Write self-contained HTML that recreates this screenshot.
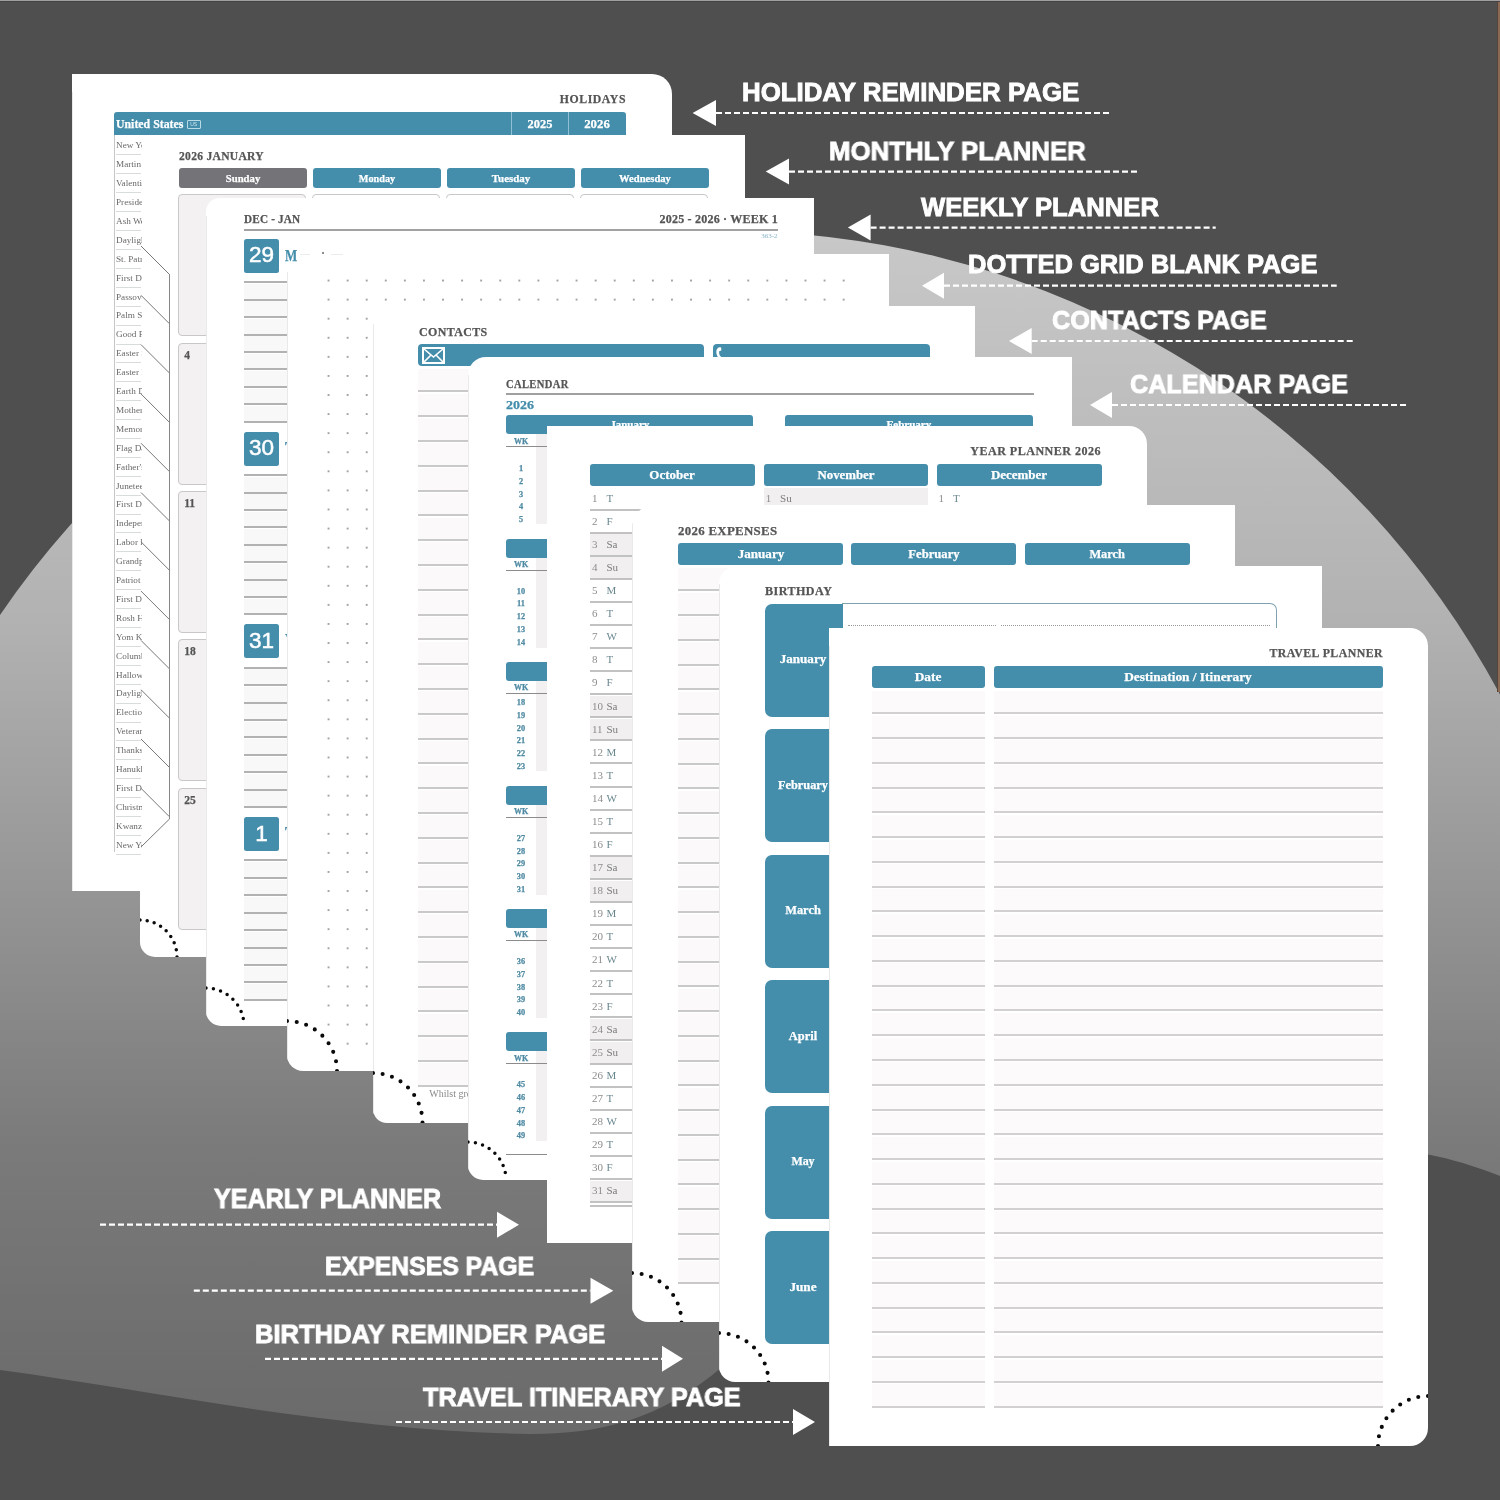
<!DOCTYPE html>
<html><head><meta charset="utf-8"><style>
html,body{margin:0;padding:0}
body{width:1500px;height:1500px;overflow:hidden;background:#4f4f4f;position:relative;font-family:'Liberation Serif',serif}
div{position:absolute;box-sizing:border-box}
.pg{overflow:hidden}
.lab{will-change:transform}
.pg{will-change:transform}
</style></head><body>
<svg style="position:absolute;left:0;top:0;z-index:0" width="1500" height="1500">
<defs><linearGradient id="g" x1="0" y1="230" x2="0" y2="1440" gradientUnits="userSpaceOnUse">
<stop offset="0" stop-color="#c8c8c8"/><stop offset="0.322" stop-color="#b2b2b2"/><stop offset="0.76" stop-color="#7a7a7a"/><stop offset="0.934" stop-color="#6e6e6e"/><stop offset="1" stop-color="#6a6a6a"/></linearGradient></defs>
<path d="M 0 615 A 878 878 0 0 1 1500 694.5 L 1500 1176 C 1460 1160 1420 1150 1370 1148 C 1150 1140 850 1260 722 1367 C 660 1420 600 1434 530 1434 C 330 1430 150 1390 0 1370 Z" fill="url(#g)"/>
<rect x="0" y="0" width="1500" height="1" fill="#a0a0a0"/>
<rect x="0" y="1" width="1500" height="1" fill="#444"/>
<rect x="1497" y="2" width="1" height="690" fill="#564538"/>
<rect x="1498" y="2" width="2" height="690" fill="#8a6a55"/>
</svg><div class="pg" id="hol" style="left:72px;top:74px;width:600px;height:817px;border-radius:0px 20px 0px 0px;z-index:1;background:#fff"><div style="left:0;top:18px;width:1px;bottom:0;height:auto;background:#e9e9e9"></div><div style="left:-446.4px;top:19.3px;width:1000px;font:bold 12.8px/1 'Liberation Serif', serif;color:#555;text-align:right;white-space:nowrap;letter-spacing:0.6px;transform:scaleX(0.92);transform-origin:right;-webkit-text-stroke:0.25px #555;">HOLIDAYS</div><div style="left:42px;top:38px;width:512px;height:23px;background:#448dab;border-radius:3px 3px 0 0;"></div><div style="left:439px;top:38px;width:1px;height:23px;background:#8fc0d3;"></div><div style="left:496px;top:38px;width:1px;height:23px;background:#8fc0d3;"></div><div style="left:44px;top:43.26px;width:1000px;font:bold 13px/1 'Liberation Serif', serif;color:#fff;text-align:left;white-space:nowrap;transform:scaleX(0.91);transform-origin:left;-webkit-text-stroke:0.25px #fff;">United States</div><div style="left:114.5px;top:46.3px;width:14.5px;height:8.7px;border:1px solid #b9dbe8;border-radius:1px;box-sizing:border-box;"></div><div style="left:-378.3px;top:47.6px;width:1000px;font:normal 5px/1 'Liberation Sans', sans-serif;color:#cfe6ef;text-align:center;white-space:nowrap;">US</div><div style="left:-32px;top:43.79px;width:1000px;font:bold 12.3px/1 'Liberation Serif', serif;color:#fff;text-align:center;white-space:nowrap;transform:scaleX(1.01);transform-origin:center;-webkit-text-stroke:0.25px #fff;">2025</div><div style="left:25.4px;top:43.79px;width:1000px;font:bold 12.3px/1 'Liberation Serif', serif;color:#fff;text-align:center;white-space:nowrap;transform:scaleX(1.04);transform-origin:center;-webkit-text-stroke:0.25px #fff;">2026</div></div><div class="pg" id="mon" style="left:140px;top:135px;width:605px;height:822px;border-radius:0px 0px 0px 15px;z-index:2;background:#fff"><div style="left:38.6px;top:15.13px;width:1000px;font:bold 12.6px/1 'Liberation Serif', serif;color:#555;text-align:left;white-space:nowrap;letter-spacing:0.3px;transform:scaleX(0.92);transform-origin:left;-webkit-text-stroke:0.25px #555;">2026 JANUARY</div><div style="left:38.6px;top:33px;width:128px;height:19.5px;background:#737378;border-radius:3px;"></div><div style="left:-397.4px;top:37.9px;width:1000px;font:bold 10.8px/1 'Liberation Serif', serif;color:#fff;text-align:center;white-space:nowrap;transform:scaleX(0.99);transform-origin:center;-webkit-text-stroke:0.25px #fff;">Sunday</div><div style="left:172.8px;top:33px;width:128px;height:19.5px;background:#448dab;border-radius:3px;"></div><div style="left:-263.2px;top:37.9px;width:1000px;font:bold 10.8px/1 'Liberation Serif', serif;color:#fff;text-align:center;white-space:nowrap;transform:scaleX(0.95);transform-origin:center;-webkit-text-stroke:0.25px #fff;">Monday</div><div style="left:307px;top:33px;width:128px;height:19.5px;background:#448dab;border-radius:3px;"></div><div style="left:-129px;top:37.9px;width:1000px;font:bold 10.8px/1 'Liberation Serif', serif;color:#fff;text-align:center;white-space:nowrap;transform:scaleX(1.01);transform-origin:center;-webkit-text-stroke:0.25px #fff;">Tuesday</div><div style="left:441.2px;top:33px;width:128px;height:19.5px;background:#448dab;border-radius:3px;"></div><div style="left:5.2px;top:37.9px;width:1000px;font:bold 10.8px/1 'Liberation Serif', serif;color:#fff;text-align:center;white-space:nowrap;transform:scaleX(0.98);transform-origin:center;-webkit-text-stroke:0.25px #fff;">Wednesday</div><div style="left:37.6px;top:59.4px;width:128px;height:142px;background:#f3f1f2;border:1px solid #c9c7c8;border-radius:4px;box-sizing:border-box;"></div><div style="left:37.6px;top:207.7px;width:128px;height:142px;background:#f3f1f2;border:1px solid #c9c7c8;border-radius:4px;box-sizing:border-box;"></div><div style="left:37.6px;top:356px;width:128px;height:142px;background:#f3f1f2;border:1px solid #c9c7c8;border-radius:4px;box-sizing:border-box;"></div><div style="left:37.6px;top:504.3px;width:128px;height:142px;background:#f3f1f2;border:1px solid #c9c7c8;border-radius:4px;box-sizing:border-box;"></div><div style="left:37.6px;top:652.6px;width:128px;height:142px;background:#f3f1f2;border:1px solid #c9c7c8;border-radius:4px;box-sizing:border-box;"></div><div style="left:171.8px;top:59.4px;width:128px;height:142px;background:#fff;border:1px solid #c9c7c8;border-radius:4px;box-sizing:border-box;"></div><div style="left:171.8px;top:207.7px;width:128px;height:142px;background:#fff;border:1px solid #c9c7c8;border-radius:4px;box-sizing:border-box;"></div><div style="left:171.8px;top:356px;width:128px;height:142px;background:#fff;border:1px solid #c9c7c8;border-radius:4px;box-sizing:border-box;"></div><div style="left:171.8px;top:504.3px;width:128px;height:142px;background:#fff;border:1px solid #c9c7c8;border-radius:4px;box-sizing:border-box;"></div><div style="left:171.8px;top:652.6px;width:128px;height:142px;background:#fff;border:1px solid #c9c7c8;border-radius:4px;box-sizing:border-box;"></div><div style="left:306px;top:59.4px;width:128px;height:142px;background:#fff;border:1px solid #c9c7c8;border-radius:4px;box-sizing:border-box;"></div><div style="left:306px;top:207.7px;width:128px;height:142px;background:#fff;border:1px solid #c9c7c8;border-radius:4px;box-sizing:border-box;"></div><div style="left:306px;top:356px;width:128px;height:142px;background:#fff;border:1px solid #c9c7c8;border-radius:4px;box-sizing:border-box;"></div><div style="left:306px;top:504.3px;width:128px;height:142px;background:#fff;border:1px solid #c9c7c8;border-radius:4px;box-sizing:border-box;"></div><div style="left:306px;top:652.6px;width:128px;height:142px;background:#fff;border:1px solid #c9c7c8;border-radius:4px;box-sizing:border-box;"></div><div style="left:440.2px;top:59.4px;width:128px;height:142px;background:#fff;border:1px solid #c9c7c8;border-radius:4px;box-sizing:border-box;"></div><div style="left:440.2px;top:207.7px;width:128px;height:142px;background:#fff;border:1px solid #c9c7c8;border-radius:4px;box-sizing:border-box;"></div><div style="left:440.2px;top:356px;width:128px;height:142px;background:#fff;border:1px solid #c9c7c8;border-radius:4px;box-sizing:border-box;"></div><div style="left:440.2px;top:504.3px;width:128px;height:142px;background:#fff;border:1px solid #c9c7c8;border-radius:4px;box-sizing:border-box;"></div><div style="left:440.2px;top:652.6px;width:128px;height:142px;background:#fff;border:1px solid #c9c7c8;border-radius:4px;box-sizing:border-box;"></div><div style="left:44.2px;top:214.83px;width:1000px;font:bold 11.5px/1 'Liberation Serif', serif;color:#555;text-align:left;white-space:nowrap;-webkit-text-stroke:0.25px #555;">4</div><div style="left:44.2px;top:363.13px;width:1000px;font:bold 11.5px/1 'Liberation Serif', serif;color:#555;text-align:left;white-space:nowrap;-webkit-text-stroke:0.25px #555;">11</div><div style="left:44.2px;top:511.43px;width:1000px;font:bold 11.5px/1 'Liberation Serif', serif;color:#555;text-align:left;white-space:nowrap;-webkit-text-stroke:0.25px #555;">18</div><div style="left:44.2px;top:659.73px;width:1000px;font:bold 11.5px/1 'Liberation Serif', serif;color:#555;text-align:left;white-space:nowrap;-webkit-text-stroke:0.25px #555;">25</div><svg style="position:absolute;left:0px;top:781px;overflow:visible" width="41" height="41"><path d="M 0 4 A 37 37 0 0 1 37 41" fill="none" stroke="#0a0a0a" stroke-width="3.5" stroke-linecap="round" stroke-dasharray="0 7.25"/></svg></div><div style="left:0;top:0;width:0;height:0;z-index:3;position:absolute"><div style="left:114px;top:135px;width:1px;height:717px;background:#c3c7c8;"></div><div style="left:116px;top:138.3px;width:26px;height:14px;overflow:hidden;font:9.2px/14px 'Liberation Serif', serif;color:#6a6a6a;white-space:nowrap">New Year</div><div style="left:116px;top:154px;width:25px;height:1px;background:#d9dcdc;"></div><div style="left:116px;top:157.2px;width:26px;height:14px;overflow:hidden;font:9.2px/14px 'Liberation Serif', serif;color:#6a6a6a;white-space:nowrap">Martin L</div><div style="left:116px;top:173px;width:25px;height:1px;background:#d9dcdc;"></div><div style="left:116px;top:176.1px;width:26px;height:14px;overflow:hidden;font:9.2px/14px 'Liberation Serif', serif;color:#6a6a6a;white-space:nowrap">Valentine</div><div style="left:116px;top:192px;width:25px;height:1px;background:#d9dcdc;"></div><div style="left:116px;top:195px;width:26px;height:14px;overflow:hidden;font:9.2px/14px 'Liberation Serif', serif;color:#6a6a6a;white-space:nowrap">President</div><div style="left:116px;top:211px;width:25px;height:1px;background:#d9dcdc;"></div><div style="left:116px;top:213.9px;width:26px;height:14px;overflow:hidden;font:9.2px/14px 'Liberation Serif', serif;color:#6a6a6a;white-space:nowrap">Ash Wed</div><div style="left:116px;top:230px;width:25px;height:1px;background:#d9dcdc;"></div><div style="left:116px;top:232.8px;width:26px;height:14px;overflow:hidden;font:9.2px/14px 'Liberation Serif', serif;color:#6a6a6a;white-space:nowrap">Daylight</div><div style="left:116px;top:249px;width:25px;height:1px;background:#d9dcdc;"></div><div style="left:116px;top:251.7px;width:26px;height:14px;overflow:hidden;font:9.2px/14px 'Liberation Serif', serif;color:#6a6a6a;white-space:nowrap">St. Patr</div><div style="left:116px;top:268px;width:25px;height:1px;background:#d9dcdc;"></div><div style="left:116px;top:270.6px;width:26px;height:14px;overflow:hidden;font:9.2px/14px 'Liberation Serif', serif;color:#6a6a6a;white-space:nowrap">First Da</div><div style="left:116px;top:287px;width:25px;height:1px;background:#d9dcdc;"></div><div style="left:116px;top:289.5px;width:26px;height:14px;overflow:hidden;font:9.2px/14px 'Liberation Serif', serif;color:#6a6a6a;white-space:nowrap">Passover</div><div style="left:116px;top:306px;width:25px;height:1px;background:#d9dcdc;"></div><div style="left:116px;top:308.4px;width:26px;height:14px;overflow:hidden;font:9.2px/14px 'Liberation Serif', serif;color:#6a6a6a;white-space:nowrap">Palm Sun</div><div style="left:116px;top:325px;width:25px;height:1px;background:#d9dcdc;"></div><div style="left:116px;top:327.3px;width:26px;height:14px;overflow:hidden;font:9.2px/14px 'Liberation Serif', serif;color:#6a6a6a;white-space:nowrap">Good Fri</div><div style="left:116px;top:344px;width:25px;height:1px;background:#d9dcdc;"></div><div style="left:116px;top:346.2px;width:26px;height:14px;overflow:hidden;font:9.2px/14px 'Liberation Serif', serif;color:#6a6a6a;white-space:nowrap">Easter S</div><div style="left:116px;top:362px;width:25px;height:1px;background:#d9dcdc;"></div><div style="left:116px;top:365.1px;width:26px;height:14px;overflow:hidden;font:9.2px/14px 'Liberation Serif', serif;color:#6a6a6a;white-space:nowrap">Easter M</div><div style="left:116px;top:381px;width:25px;height:1px;background:#d9dcdc;"></div><div style="left:116px;top:384px;width:26px;height:14px;overflow:hidden;font:9.2px/14px 'Liberation Serif', serif;color:#6a6a6a;white-space:nowrap">Earth Da</div><div style="left:116px;top:400px;width:25px;height:1px;background:#d9dcdc;"></div><div style="left:116px;top:402.9px;width:26px;height:14px;overflow:hidden;font:9.2px/14px 'Liberation Serif', serif;color:#6a6a6a;white-space:nowrap">Mother</div><div style="left:116px;top:419px;width:25px;height:1px;background:#d9dcdc;"></div><div style="left:116px;top:421.8px;width:26px;height:14px;overflow:hidden;font:9.2px/14px 'Liberation Serif', serif;color:#6a6a6a;white-space:nowrap">Memorial</div><div style="left:116px;top:438px;width:25px;height:1px;background:#d9dcdc;"></div><div style="left:116px;top:440.7px;width:26px;height:14px;overflow:hidden;font:9.2px/14px 'Liberation Serif', serif;color:#6a6a6a;white-space:nowrap">Flag Day</div><div style="left:116px;top:457px;width:25px;height:1px;background:#d9dcdc;"></div><div style="left:116px;top:459.6px;width:26px;height:14px;overflow:hidden;font:9.2px/14px 'Liberation Serif', serif;color:#6a6a6a;white-space:nowrap">Father's</div><div style="left:116px;top:476px;width:25px;height:1px;background:#d9dcdc;"></div><div style="left:116px;top:478.5px;width:26px;height:14px;overflow:hidden;font:9.2px/14px 'Liberation Serif', serif;color:#6a6a6a;white-space:nowrap">Juneteen</div><div style="left:116px;top:495px;width:25px;height:1px;background:#d9dcdc;"></div><div style="left:116px;top:497.4px;width:26px;height:14px;overflow:hidden;font:9.2px/14px 'Liberation Serif', serif;color:#6a6a6a;white-space:nowrap">First Da</div><div style="left:116px;top:514px;width:25px;height:1px;background:#d9dcdc;"></div><div style="left:116px;top:516.3px;width:26px;height:14px;overflow:hidden;font:9.2px/14px 'Liberation Serif', serif;color:#6a6a6a;white-space:nowrap">Independ</div><div style="left:116px;top:532px;width:25px;height:1px;background:#d9dcdc;"></div><div style="left:116px;top:535.2px;width:26px;height:14px;overflow:hidden;font:9.2px/14px 'Liberation Serif', serif;color:#6a6a6a;white-space:nowrap">Labor Da</div><div style="left:116px;top:551px;width:25px;height:1px;background:#d9dcdc;"></div><div style="left:116px;top:554.1px;width:26px;height:14px;overflow:hidden;font:9.2px/14px 'Liberation Serif', serif;color:#6a6a6a;white-space:nowrap">Grandpar</div><div style="left:116px;top:570px;width:25px;height:1px;background:#d9dcdc;"></div><div style="left:116px;top:573px;width:26px;height:14px;overflow:hidden;font:9.2px/14px 'Liberation Serif', serif;color:#6a6a6a;white-space:nowrap">Patriot</div><div style="left:116px;top:589px;width:25px;height:1px;background:#d9dcdc;"></div><div style="left:116px;top:591.9px;width:26px;height:14px;overflow:hidden;font:9.2px/14px 'Liberation Serif', serif;color:#6a6a6a;white-space:nowrap">First Da</div><div style="left:116px;top:608px;width:25px;height:1px;background:#d9dcdc;"></div><div style="left:116px;top:610.8px;width:26px;height:14px;overflow:hidden;font:9.2px/14px 'Liberation Serif', serif;color:#6a6a6a;white-space:nowrap">Rosh Has</div><div style="left:116px;top:627px;width:25px;height:1px;background:#d9dcdc;"></div><div style="left:116px;top:629.7px;width:26px;height:14px;overflow:hidden;font:9.2px/14px 'Liberation Serif', serif;color:#6a6a6a;white-space:nowrap">Yom Kip</div><div style="left:116px;top:646px;width:25px;height:1px;background:#d9dcdc;"></div><div style="left:116px;top:648.6px;width:26px;height:14px;overflow:hidden;font:9.2px/14px 'Liberation Serif', serif;color:#6a6a6a;white-space:nowrap">Columbus</div><div style="left:116px;top:665px;width:25px;height:1px;background:#d9dcdc;"></div><div style="left:116px;top:667.5px;width:26px;height:14px;overflow:hidden;font:9.2px/14px 'Liberation Serif', serif;color:#6a6a6a;white-space:nowrap">Hallowee</div><div style="left:116px;top:684px;width:25px;height:1px;background:#d9dcdc;"></div><div style="left:116px;top:686.4px;width:26px;height:14px;overflow:hidden;font:9.2px/14px 'Liberation Serif', serif;color:#6a6a6a;white-space:nowrap">Daylight</div><div style="left:116px;top:703px;width:25px;height:1px;background:#d9dcdc;"></div><div style="left:116px;top:705.3px;width:26px;height:14px;overflow:hidden;font:9.2px/14px 'Liberation Serif', serif;color:#6a6a6a;white-space:nowrap">Election</div><div style="left:116px;top:722px;width:25px;height:1px;background:#d9dcdc;"></div><div style="left:116px;top:724.2px;width:26px;height:14px;overflow:hidden;font:9.2px/14px 'Liberation Serif', serif;color:#6a6a6a;white-space:nowrap">Veterans</div><div style="left:116px;top:740px;width:25px;height:1px;background:#d9dcdc;"></div><div style="left:116px;top:743.1px;width:26px;height:14px;overflow:hidden;font:9.2px/14px 'Liberation Serif', serif;color:#6a6a6a;white-space:nowrap">Thanksg</div><div style="left:116px;top:759px;width:25px;height:1px;background:#d9dcdc;"></div><div style="left:116px;top:762px;width:26px;height:14px;overflow:hidden;font:9.2px/14px 'Liberation Serif', serif;color:#6a6a6a;white-space:nowrap">Hanukkah</div><div style="left:116px;top:778px;width:25px;height:1px;background:#d9dcdc;"></div><div style="left:116px;top:780.9px;width:26px;height:14px;overflow:hidden;font:9.2px/14px 'Liberation Serif', serif;color:#6a6a6a;white-space:nowrap">First Da</div><div style="left:116px;top:797px;width:25px;height:1px;background:#d9dcdc;"></div><div style="left:116px;top:799.8px;width:26px;height:14px;overflow:hidden;font:9.2px/14px 'Liberation Serif', serif;color:#6a6a6a;white-space:nowrap">Christmas</div><div style="left:116px;top:816px;width:25px;height:1px;background:#d9dcdc;"></div><div style="left:116px;top:818.7px;width:26px;height:14px;overflow:hidden;font:9.2px/14px 'Liberation Serif', serif;color:#6a6a6a;white-space:nowrap">Kwanzaa</div><div style="left:116px;top:835px;width:25px;height:1px;background:#d9dcdc;"></div><div style="left:116px;top:837.6px;width:26px;height:14px;overflow:hidden;font:9.2px/14px 'Liberation Serif', serif;color:#6a6a6a;white-space:nowrap">New Year</div><div style="left:116px;top:854px;width:25px;height:1px;background:#d9dcdc;"></div><svg style="left:0;top:0;position:absolute;overflow:visible" width="1500" height="1000"><line x1="141" y1="246" x2="169.5" y2="274.5" stroke="#777" stroke-width="1"/><line x1="141" y1="295.3" x2="169.5" y2="323.8" stroke="#777" stroke-width="1"/><line x1="141" y1="344.6" x2="169.5" y2="373.1" stroke="#777" stroke-width="1"/><line x1="141" y1="393.9" x2="169.5" y2="422.4" stroke="#777" stroke-width="1"/><line x1="141" y1="443.2" x2="169.5" y2="471.7" stroke="#777" stroke-width="1"/><line x1="141" y1="492.5" x2="169.5" y2="521" stroke="#777" stroke-width="1"/><line x1="141" y1="541.8" x2="169.5" y2="570.3" stroke="#777" stroke-width="1"/><line x1="141" y1="591.1" x2="169.5" y2="619.6" stroke="#777" stroke-width="1"/><line x1="141" y1="640.4" x2="169.5" y2="668.9" stroke="#777" stroke-width="1"/><line x1="141" y1="689.7" x2="169.5" y2="718.2" stroke="#777" stroke-width="1"/><line x1="141" y1="739" x2="169.5" y2="767.5" stroke="#777" stroke-width="1"/><line x1="141" y1="788.3" x2="169.5" y2="816.8" stroke="#777" stroke-width="1"/><line x1="169.5" y1="274" x2="169.5" y2="819" stroke="#888" stroke-width="1"/><line x1="141" y1="847" x2="169.5" y2="819" stroke="#777" stroke-width="1"/></svg></div><div class="pg" id="wk" style="left:206px;top:198px;width:608px;height:828px;border-radius:14px 0px 0px 15px;z-index:4;background:#fff"><div style="left:0;top:18px;width:1px;bottom:0;height:auto;background:#e9e9e9"></div><div style="left:38.4px;top:14.79px;width:1000px;font:bold 12.3px/1 'Liberation Serif', serif;color:#555;text-align:left;white-space:nowrap;letter-spacing:0.2px;transform:scaleX(0.91);transform-origin:left;-webkit-text-stroke:0.25px #555;">DEC - JAN</div><div style="left:-428.4px;top:14.99px;width:1000px;font:bold 12.3px/1 'Liberation Serif', serif;color:#555;text-align:right;white-space:nowrap;letter-spacing:0.2px;transform:scaleX(0.98);transform-origin:right;-webkit-text-stroke:0.25px #555;">2025 - 2026 · WEEK 1</div><div style="left:38px;top:31px;width:534px;height:2px;background:#a2a2a2;"></div><div style="left:-428.4px;top:35.24px;width:1000px;font:normal 7px/1 'Liberation Serif', serif;color:#8ab4c6;text-align:right;white-space:nowrap;">363-2</div><div style="left:38.1px;top:41px;width:35px;height:34px;background:#448dab;border-radius:2.5px;"></div><div style="left:-444.4px;top:46.4px;width:1000px;font:normal 22.5px/1 'Liberation Sans', sans-serif;color:#fff;text-align:center;white-space:nowrap;-webkit-text-stroke:0.5px #fff;">29</div><div style="left:38px;top:86px;width:569px;height:15.82px;background:#f8f8f8;"></div><div style="left:38px;top:83px;width:569px;height:2px;background:#b2b2b2;"></div><div style="left:38px;top:103.42px;width:569px;height:15.82px;background:#f8f8f8;"></div><div style="left:38px;top:101px;width:569px;height:2px;background:#b2b2b2;"></div><div style="left:38px;top:120.84px;width:569px;height:15.82px;background:#f8f8f8;"></div><div style="left:38px;top:118px;width:569px;height:2px;background:#b2b2b2;"></div><div style="left:38px;top:138.26px;width:569px;height:15.82px;background:#f8f8f8;"></div><div style="left:38px;top:136px;width:569px;height:2px;background:#b2b2b2;"></div><div style="left:38px;top:155.68px;width:569px;height:15.82px;background:#f8f8f8;"></div><div style="left:38px;top:153px;width:569px;height:2px;background:#b2b2b2;"></div><div style="left:38px;top:173.1px;width:569px;height:15.82px;background:#f8f8f8;"></div><div style="left:38px;top:170px;width:569px;height:2px;background:#b2b2b2;"></div><div style="left:38px;top:190.52px;width:569px;height:15.82px;background:#f8f8f8;"></div><div style="left:38px;top:188px;width:569px;height:2px;background:#b2b2b2;"></div><div style="left:38px;top:207.94px;width:569px;height:15.82px;background:#f8f8f8;"></div><div style="left:38px;top:205px;width:569px;height:2px;background:#b2b2b2;"></div><div style="left:38px;top:223px;width:569px;height:2px;background:#b2b2b2;"></div><div style="left:38.1px;top:233.7px;width:35px;height:34px;background:#448dab;border-radius:2.5px;"></div><div style="left:-444.4px;top:239.1px;width:1000px;font:normal 22.5px/1 'Liberation Sans', sans-serif;color:#fff;text-align:center;white-space:nowrap;-webkit-text-stroke:0.5px #fff;">30</div><div style="left:79px;top:241.73px;width:1000px;font:bold 16.5px/1 'Liberation Serif', serif;color:#448dab;text-align:left;white-space:nowrap;-webkit-text-stroke:0.25px #448dab;">Tuesday</div><div style="left:38px;top:278.7px;width:569px;height:15.82px;background:#f8f8f8;"></div><div style="left:38px;top:276px;width:569px;height:2px;background:#b2b2b2;"></div><div style="left:38px;top:296.12px;width:569px;height:15.82px;background:#f8f8f8;"></div><div style="left:38px;top:294px;width:569px;height:2px;background:#b2b2b2;"></div><div style="left:38px;top:313.54px;width:569px;height:15.82px;background:#f8f8f8;"></div><div style="left:38px;top:311px;width:569px;height:2px;background:#b2b2b2;"></div><div style="left:38px;top:330.96px;width:569px;height:15.82px;background:#f8f8f8;"></div><div style="left:38px;top:328px;width:569px;height:2px;background:#b2b2b2;"></div><div style="left:38px;top:348.38px;width:569px;height:15.82px;background:#f8f8f8;"></div><div style="left:38px;top:346px;width:569px;height:2px;background:#b2b2b2;"></div><div style="left:38px;top:365.8px;width:569px;height:15.82px;background:#f8f8f8;"></div><div style="left:38px;top:363px;width:569px;height:2px;background:#b2b2b2;"></div><div style="left:38px;top:383.22px;width:569px;height:15.82px;background:#f8f8f8;"></div><div style="left:38px;top:381px;width:569px;height:2px;background:#b2b2b2;"></div><div style="left:38px;top:400.64px;width:569px;height:15.82px;background:#f8f8f8;"></div><div style="left:38px;top:398px;width:569px;height:2px;background:#b2b2b2;"></div><div style="left:38px;top:415px;width:569px;height:2px;background:#b2b2b2;"></div><div style="left:38.1px;top:426.4px;width:35px;height:34px;background:#448dab;border-radius:2.5px;"></div><div style="left:-444.4px;top:431.8px;width:1000px;font:normal 22.5px/1 'Liberation Sans', sans-serif;color:#fff;text-align:center;white-space:nowrap;-webkit-text-stroke:0.5px #fff;">31</div><div style="left:79px;top:434.43px;width:1000px;font:bold 16.5px/1 'Liberation Serif', serif;color:#448dab;text-align:left;white-space:nowrap;-webkit-text-stroke:0.25px #448dab;">Wednesday</div><div style="left:38px;top:471.4px;width:569px;height:15.82px;background:#f8f8f8;"></div><div style="left:38px;top:469px;width:569px;height:2px;background:#b2b2b2;"></div><div style="left:38px;top:488.82px;width:569px;height:15.82px;background:#f8f8f8;"></div><div style="left:38px;top:486px;width:569px;height:2px;background:#b2b2b2;"></div><div style="left:38px;top:506.24px;width:569px;height:15.82px;background:#f8f8f8;"></div><div style="left:38px;top:504px;width:569px;height:2px;background:#b2b2b2;"></div><div style="left:38px;top:523.66px;width:569px;height:15.82px;background:#f8f8f8;"></div><div style="left:38px;top:521px;width:569px;height:2px;background:#b2b2b2;"></div><div style="left:38px;top:541.08px;width:569px;height:15.82px;background:#f8f8f8;"></div><div style="left:38px;top:538px;width:569px;height:2px;background:#b2b2b2;"></div><div style="left:38px;top:558.5px;width:569px;height:15.82px;background:#f8f8f8;"></div><div style="left:38px;top:556px;width:569px;height:2px;background:#b2b2b2;"></div><div style="left:38px;top:575.92px;width:569px;height:15.82px;background:#f8f8f8;"></div><div style="left:38px;top:573px;width:569px;height:2px;background:#b2b2b2;"></div><div style="left:38px;top:593.34px;width:569px;height:15.82px;background:#f8f8f8;"></div><div style="left:38px;top:591px;width:569px;height:2px;background:#b2b2b2;"></div><div style="left:38px;top:608px;width:569px;height:2px;background:#b2b2b2;"></div><div style="left:38.1px;top:619.1px;width:35px;height:34px;background:#448dab;border-radius:2.5px;"></div><div style="left:-444.4px;top:624.5px;width:1000px;font:normal 22.5px/1 'Liberation Sans', sans-serif;color:#fff;text-align:center;white-space:nowrap;-webkit-text-stroke:0.5px #fff;">1</div><div style="left:79px;top:627.13px;width:1000px;font:bold 16.5px/1 'Liberation Serif', serif;color:#448dab;text-align:left;white-space:nowrap;-webkit-text-stroke:0.25px #448dab;">Thursday</div><div style="left:38px;top:664.1px;width:569px;height:15.82px;background:#f8f8f8;"></div><div style="left:38px;top:661px;width:569px;height:2px;background:#b2b2b2;"></div><div style="left:38px;top:681.52px;width:569px;height:15.82px;background:#f8f8f8;"></div><div style="left:38px;top:679px;width:569px;height:2px;background:#b2b2b2;"></div><div style="left:38px;top:698.94px;width:569px;height:15.82px;background:#f8f8f8;"></div><div style="left:38px;top:696px;width:569px;height:2px;background:#b2b2b2;"></div><div style="left:38px;top:716.36px;width:569px;height:15.82px;background:#f8f8f8;"></div><div style="left:38px;top:714px;width:569px;height:2px;background:#b2b2b2;"></div><div style="left:38px;top:733.78px;width:569px;height:15.82px;background:#f8f8f8;"></div><div style="left:38px;top:731px;width:569px;height:2px;background:#b2b2b2;"></div><div style="left:38px;top:751.2px;width:569px;height:15.82px;background:#f8f8f8;"></div><div style="left:38px;top:749px;width:569px;height:2px;background:#b2b2b2;"></div><div style="left:38px;top:768.62px;width:569px;height:15.82px;background:#f8f8f8;"></div><div style="left:38px;top:766px;width:569px;height:2px;background:#b2b2b2;"></div><div style="left:38px;top:786.04px;width:569px;height:15.82px;background:#f8f8f8;"></div><div style="left:38px;top:783px;width:569px;height:2px;background:#b2b2b2;"></div><div style="left:38px;top:801px;width:569px;height:2px;background:#b2b2b2;"></div><svg style="position:absolute;left:0px;top:785.6px;overflow:visible" width="42" height="42"><path d="M 0 4 A 38 38 0 0 1 38 42" fill="none" stroke="#0a0a0a" stroke-width="3.5" stroke-linecap="round" stroke-dasharray="0 7.45"/></svg></div><div class="pg" id="dot" style="left:287px;top:254px;width:602px;height:817px;border-radius:14px 0px 0px 16px;z-index:5;background:#fff"><div style="left:0;top:18px;width:1px;bottom:0;height:auto;background:#e9e9e9"></div><div style="left:32.26px;top:17.26px;width:534.24px;height:782.28px;background:radial-gradient(circle at center, #a2a2a2 0, #a2a2a2 0.8px, rgba(255,255,255,0) 1.2px);background-size:19.08px 19.08px;"></div><svg style="position:absolute;left:0.2px;top:763.3px;overflow:visible" width="54" height="54"><path d="M 0 4 A 50 50 0 0 1 50 54" fill="none" stroke="#0a0a0a" stroke-width="4.1" stroke-linecap="round" stroke-dasharray="0 9.8"/></svg></div><div class="pg" id="con" style="left:373px;top:306px;width:602px;height:817px;border-radius:0px 0px 0px 14px;z-index:6;background:#fff"><div style="left:0;top:18px;width:1px;bottom:0;height:auto;background:#e9e9e9"></div><div style="left:45.8px;top:18.66px;width:1000px;font:bold 13px/1 'Liberation Serif', serif;color:#555;text-align:left;white-space:nowrap;letter-spacing:0.4px;transform:scaleX(0.92);transform-origin:left;-webkit-text-stroke:0.25px #555;">CONTACTS</div><div style="left:45.4px;top:38.4px;width:286px;height:21.6px;background:#448dab;border-radius:4px 4px 0 4px;"></div><div style="left:339.8px;top:38.4px;width:217.2px;height:21.6px;background:#448dab;border-radius:4px 4px 0 4px;"></div><svg style="position:absolute;left:49px;top:40.8px" width="23" height="17" viewBox="0 0 23 17"><rect x="1" y="1" width="21" height="15" fill="none" stroke="#fff" stroke-width="2"/><path d="M1.5 1.5 L11.5 10 L21.5 1.5 M1.5 15.5 L8.5 8.5 M21.5 15.5 L14.5 8.5" fill="none" stroke="#fff" stroke-width="1.6"/></svg><svg style="position:absolute;left:342px;top:40.5px" width="8" height="13" viewBox="0 0 8 13"><path d="M4.6 0.3 C1.6 0.8 0.4 4.5 2.2 8.8 C3.2 11.2 4.3 12.6 5.6 12.8 L7 10.6 L5.2 9 C4.3 7.6 3.9 5.8 4.2 4.2 L6.3 3.6 L6.2 0.4 Z" fill="#fff"/></svg><div style="left:45.4px;top:62.8px;width:286px;height:22.5px;background:#fcf9fa;"></div><div style="left:45.4px;top:84px;width:286px;height:2px;background:#c9c9c9;"></div><div style="left:339.8px;top:62.8px;width:217px;height:22.5px;background:#fcf9fa;"></div><div style="left:339.8px;top:84px;width:217.2px;height:2px;background:#c9c9c9;"></div><div style="left:45.4px;top:87.6px;width:286px;height:22.5px;background:#fcf9fa;"></div><div style="left:45.4px;top:109px;width:286px;height:2px;background:#c9c9c9;"></div><div style="left:339.8px;top:87.6px;width:217px;height:22.5px;background:#fcf9fa;"></div><div style="left:339.8px;top:109px;width:217.2px;height:2px;background:#c9c9c9;"></div><div style="left:45.4px;top:112.4px;width:286px;height:22.5px;background:#fcf9fa;"></div><div style="left:45.4px;top:134px;width:286px;height:2px;background:#c9c9c9;"></div><div style="left:339.8px;top:112.4px;width:217px;height:22.5px;background:#fcf9fa;"></div><div style="left:339.8px;top:134px;width:217.2px;height:2px;background:#c9c9c9;"></div><div style="left:45.4px;top:137.2px;width:286px;height:22.5px;background:#fcf9fa;"></div><div style="left:45.4px;top:159px;width:286px;height:2px;background:#c9c9c9;"></div><div style="left:339.8px;top:137.2px;width:217px;height:22.5px;background:#fcf9fa;"></div><div style="left:339.8px;top:159px;width:217.2px;height:2px;background:#c9c9c9;"></div><div style="left:45.4px;top:162px;width:286px;height:22.5px;background:#fcf9fa;"></div><div style="left:45.4px;top:184px;width:286px;height:2px;background:#c9c9c9;"></div><div style="left:339.8px;top:162px;width:217px;height:22.5px;background:#fcf9fa;"></div><div style="left:339.8px;top:184px;width:217.2px;height:2px;background:#c9c9c9;"></div><div style="left:45.4px;top:186.8px;width:286px;height:22.5px;background:#fcf9fa;"></div><div style="left:45.4px;top:208px;width:286px;height:2px;background:#c9c9c9;"></div><div style="left:339.8px;top:186.8px;width:217px;height:22.5px;background:#fcf9fa;"></div><div style="left:339.8px;top:208px;width:217.2px;height:2px;background:#c9c9c9;"></div><div style="left:45.4px;top:211.6px;width:286px;height:22.5px;background:#fcf9fa;"></div><div style="left:45.4px;top:233px;width:286px;height:2px;background:#c9c9c9;"></div><div style="left:339.8px;top:211.6px;width:217px;height:22.5px;background:#fcf9fa;"></div><div style="left:339.8px;top:233px;width:217.2px;height:2px;background:#c9c9c9;"></div><div style="left:45.4px;top:236.4px;width:286px;height:22.5px;background:#fcf9fa;"></div><div style="left:45.4px;top:258px;width:286px;height:2px;background:#c9c9c9;"></div><div style="left:339.8px;top:236.4px;width:217px;height:22.5px;background:#fcf9fa;"></div><div style="left:339.8px;top:258px;width:217.2px;height:2px;background:#c9c9c9;"></div><div style="left:45.4px;top:261.2px;width:286px;height:22.5px;background:#fcf9fa;"></div><div style="left:45.4px;top:283px;width:286px;height:2px;background:#c9c9c9;"></div><div style="left:339.8px;top:261.2px;width:217px;height:22.5px;background:#fcf9fa;"></div><div style="left:339.8px;top:283px;width:217.2px;height:2px;background:#c9c9c9;"></div><div style="left:45.4px;top:286px;width:286px;height:22.5px;background:#fcf9fa;"></div><div style="left:45.4px;top:308px;width:286px;height:2px;background:#c9c9c9;"></div><div style="left:339.8px;top:286px;width:217px;height:22.5px;background:#fcf9fa;"></div><div style="left:339.8px;top:308px;width:217.2px;height:2px;background:#c9c9c9;"></div><div style="left:45.4px;top:310.8px;width:286px;height:22.5px;background:#fcf9fa;"></div><div style="left:45.4px;top:332px;width:286px;height:2px;background:#c9c9c9;"></div><div style="left:339.8px;top:310.8px;width:217px;height:22.5px;background:#fcf9fa;"></div><div style="left:339.8px;top:332px;width:217.2px;height:2px;background:#c9c9c9;"></div><div style="left:45.4px;top:335.6px;width:286px;height:22.5px;background:#fcf9fa;"></div><div style="left:45.4px;top:357px;width:286px;height:2px;background:#c9c9c9;"></div><div style="left:339.8px;top:335.6px;width:217px;height:22.5px;background:#fcf9fa;"></div><div style="left:339.8px;top:357px;width:217.2px;height:2px;background:#c9c9c9;"></div><div style="left:45.4px;top:360.4px;width:286px;height:22.5px;background:#fcf9fa;"></div><div style="left:45.4px;top:382px;width:286px;height:2px;background:#c9c9c9;"></div><div style="left:339.8px;top:360.4px;width:217px;height:22.5px;background:#fcf9fa;"></div><div style="left:339.8px;top:382px;width:217.2px;height:2px;background:#c9c9c9;"></div><div style="left:45.4px;top:385.2px;width:286px;height:22.5px;background:#fcf9fa;"></div><div style="left:45.4px;top:407px;width:286px;height:2px;background:#c9c9c9;"></div><div style="left:339.8px;top:385.2px;width:217px;height:22.5px;background:#fcf9fa;"></div><div style="left:339.8px;top:407px;width:217.2px;height:2px;background:#c9c9c9;"></div><div style="left:45.4px;top:410px;width:286px;height:22.5px;background:#fcf9fa;"></div><div style="left:45.4px;top:432px;width:286px;height:2px;background:#c9c9c9;"></div><div style="left:339.8px;top:410px;width:217px;height:22.5px;background:#fcf9fa;"></div><div style="left:339.8px;top:432px;width:217.2px;height:2px;background:#c9c9c9;"></div><div style="left:45.4px;top:434.8px;width:286px;height:22.5px;background:#fcf9fa;"></div><div style="left:45.4px;top:456px;width:286px;height:2px;background:#c9c9c9;"></div><div style="left:339.8px;top:434.8px;width:217px;height:22.5px;background:#fcf9fa;"></div><div style="left:339.8px;top:456px;width:217.2px;height:2px;background:#c9c9c9;"></div><div style="left:45.4px;top:459.6px;width:286px;height:22.5px;background:#fcf9fa;"></div><div style="left:45.4px;top:481px;width:286px;height:2px;background:#c9c9c9;"></div><div style="left:339.8px;top:459.6px;width:217px;height:22.5px;background:#fcf9fa;"></div><div style="left:339.8px;top:481px;width:217.2px;height:2px;background:#c9c9c9;"></div><div style="left:45.4px;top:484.4px;width:286px;height:22.5px;background:#fcf9fa;"></div><div style="left:45.4px;top:506px;width:286px;height:2px;background:#c9c9c9;"></div><div style="left:339.8px;top:484.4px;width:217px;height:22.5px;background:#fcf9fa;"></div><div style="left:339.8px;top:506px;width:217.2px;height:2px;background:#c9c9c9;"></div><div style="left:45.4px;top:509.2px;width:286px;height:22.5px;background:#fcf9fa;"></div><div style="left:45.4px;top:531px;width:286px;height:2px;background:#c9c9c9;"></div><div style="left:339.8px;top:509.2px;width:217px;height:22.5px;background:#fcf9fa;"></div><div style="left:339.8px;top:531px;width:217.2px;height:2px;background:#c9c9c9;"></div><div style="left:45.4px;top:534px;width:286px;height:22.5px;background:#fcf9fa;"></div><div style="left:45.4px;top:556px;width:286px;height:2px;background:#c9c9c9;"></div><div style="left:339.8px;top:534px;width:217px;height:22.5px;background:#fcf9fa;"></div><div style="left:339.8px;top:556px;width:217.2px;height:2px;background:#c9c9c9;"></div><div style="left:45.4px;top:558.8px;width:286px;height:22.5px;background:#fcf9fa;"></div><div style="left:45.4px;top:580px;width:286px;height:2px;background:#c9c9c9;"></div><div style="left:339.8px;top:558.8px;width:217px;height:22.5px;background:#fcf9fa;"></div><div style="left:339.8px;top:580px;width:217.2px;height:2px;background:#c9c9c9;"></div><div style="left:45.4px;top:583.6px;width:286px;height:22.5px;background:#fcf9fa;"></div><div style="left:45.4px;top:605px;width:286px;height:2px;background:#c9c9c9;"></div><div style="left:339.8px;top:583.6px;width:217px;height:22.5px;background:#fcf9fa;"></div><div style="left:339.8px;top:605px;width:217.2px;height:2px;background:#c9c9c9;"></div><div style="left:45.4px;top:608.4px;width:286px;height:22.5px;background:#fcf9fa;"></div><div style="left:45.4px;top:630px;width:286px;height:2px;background:#c9c9c9;"></div><div style="left:339.8px;top:608.4px;width:217px;height:22.5px;background:#fcf9fa;"></div><div style="left:339.8px;top:630px;width:217.2px;height:2px;background:#c9c9c9;"></div><div style="left:45.4px;top:633.2px;width:286px;height:22.5px;background:#fcf9fa;"></div><div style="left:45.4px;top:655px;width:286px;height:2px;background:#c9c9c9;"></div><div style="left:339.8px;top:633.2px;width:217px;height:22.5px;background:#fcf9fa;"></div><div style="left:339.8px;top:655px;width:217.2px;height:2px;background:#c9c9c9;"></div><div style="left:45.4px;top:658px;width:286px;height:22.5px;background:#fcf9fa;"></div><div style="left:45.4px;top:680px;width:286px;height:2px;background:#c9c9c9;"></div><div style="left:339.8px;top:658px;width:217px;height:22.5px;background:#fcf9fa;"></div><div style="left:339.8px;top:680px;width:217.2px;height:2px;background:#c9c9c9;"></div><div style="left:45.4px;top:682.8px;width:286px;height:22.5px;background:#fcf9fa;"></div><div style="left:45.4px;top:704px;width:286px;height:2px;background:#c9c9c9;"></div><div style="left:339.8px;top:682.8px;width:217px;height:22.5px;background:#fcf9fa;"></div><div style="left:339.8px;top:704px;width:217.2px;height:2px;background:#c9c9c9;"></div><div style="left:45.4px;top:707.6px;width:286px;height:22.5px;background:#fcf9fa;"></div><div style="left:45.4px;top:729px;width:286px;height:2px;background:#c9c9c9;"></div><div style="left:339.8px;top:707.6px;width:217px;height:22.5px;background:#fcf9fa;"></div><div style="left:339.8px;top:729px;width:217.2px;height:2px;background:#c9c9c9;"></div><div style="left:45.4px;top:732.4px;width:286px;height:22.5px;background:#fcf9fa;"></div><div style="left:45.4px;top:754px;width:286px;height:2px;background:#c9c9c9;"></div><div style="left:339.8px;top:732.4px;width:217px;height:22.5px;background:#fcf9fa;"></div><div style="left:339.8px;top:754px;width:217.2px;height:2px;background:#c9c9c9;"></div><div style="left:45.4px;top:757.2px;width:286px;height:22.5px;background:#fcf9fa;"></div><div style="left:45.4px;top:779px;width:286px;height:2px;background:#c9c9c9;"></div><div style="left:339.8px;top:757.2px;width:217px;height:22.5px;background:#fcf9fa;"></div><div style="left:339.8px;top:779px;width:217.2px;height:2px;background:#c9c9c9;"></div><div style="left:56.3px;top:783.4px;width:1000px;font:normal 10px/1 'Liberation Serif', serif;color:#8a8a8a;text-align:left;white-space:nowrap;">Whilst great care has been taken</div><svg style="position:absolute;left:-0.3px;top:763.2px;overflow:visible" width="53.5" height="53.5"><path d="M 0 4 A 49.5 49.5 0 0 1 49.5 53.5" fill="none" stroke="#0a0a0a" stroke-width="4.1" stroke-linecap="round" stroke-dasharray="0 9.7"/></svg></div><div class="pg" id="cal" style="left:468px;top:357px;width:604px;height:823px;border-radius:18px 0px 0px 15px;z-index:7;background:#fff"><div style="left:0;top:18px;width:1px;bottom:0;height:auto;background:#e9e9e9"></div><div style="left:38.3px;top:20.73px;width:1000px;font:bold 12.6px/1 'Liberation Serif', serif;color:#555;text-align:left;white-space:nowrap;letter-spacing:0.4px;transform:scaleX(0.84);transform-origin:left;-webkit-text-stroke:0.25px #555;">CALENDAR</div><div style="left:38px;top:36px;width:527.5px;height:2px;background:#a0a0a0;"></div><div style="left:38px;top:41.73px;width:1000px;font:bold 12.6px/1 'Liberation Serif', serif;color:#448dab;text-align:left;white-space:nowrap;transform:scaleX(1.11);transform-origin:left;-webkit-text-stroke:0.25px #448dab;">2026</div><div style="left:38px;top:58.3px;width:247.4px;height:19px;background:#448dab;border-radius:3px;"></div><div style="left:-338.3px;top:61.82px;width:1000px;font:bold 11px/1 'Liberation Serif', serif;color:#fff;text-align:center;white-space:nowrap;-webkit-text-stroke:0.25px #fff;">January</div><div style="left:-447px;top:80.56px;width:1000px;font:bold 8px/1 'Liberation Serif', serif;color:#4f8aa3;text-align:center;white-space:nowrap;-webkit-text-stroke:0.25px #4f8aa3;">WK</div><div style="left:68.3px;top:77.3px;width:10.4px;height:90px;background:#f3f0f1;"></div><div style="left:38px;top:89px;width:247.4px;height:1px;background:#8c8c8c;"></div><div style="left:-447px;top:107.81px;width:1000px;font:bold 8.3px/1 'Liberation Serif', serif;color:#4f8aa3;text-align:center;white-space:nowrap;-webkit-text-stroke:0.25px #4f8aa3;">1</div><div style="left:-447px;top:120.66px;width:1000px;font:bold 8.3px/1 'Liberation Serif', serif;color:#4f8aa3;text-align:center;white-space:nowrap;-webkit-text-stroke:0.25px #4f8aa3;">2</div><div style="left:-447px;top:133.51px;width:1000px;font:bold 8.3px/1 'Liberation Serif', serif;color:#4f8aa3;text-align:center;white-space:nowrap;-webkit-text-stroke:0.25px #4f8aa3;">3</div><div style="left:-447px;top:146.36px;width:1000px;font:bold 8.3px/1 'Liberation Serif', serif;color:#4f8aa3;text-align:center;white-space:nowrap;-webkit-text-stroke:0.25px #4f8aa3;">4</div><div style="left:-447px;top:159.21px;width:1000px;font:bold 8.3px/1 'Liberation Serif', serif;color:#4f8aa3;text-align:center;white-space:nowrap;-webkit-text-stroke:0.25px #4f8aa3;">5</div><div style="left:317px;top:58.3px;width:247.7px;height:19px;background:#448dab;border-radius:3px;"></div><div style="left:-59.15px;top:61.82px;width:1000px;font:bold 11px/1 'Liberation Serif', serif;color:#fff;text-align:center;white-space:nowrap;-webkit-text-stroke:0.25px #fff;">February</div><div style="left:-168px;top:80.56px;width:1000px;font:bold 8px/1 'Liberation Serif', serif;color:#4f8aa3;text-align:center;white-space:nowrap;-webkit-text-stroke:0.25px #4f8aa3;">WK</div><div style="left:347.3px;top:77.3px;width:10.4px;height:90px;background:#f3f0f1;"></div><div style="left:317px;top:89px;width:247.7px;height:1px;background:#8c8c8c;"></div><div style="left:-168px;top:107.81px;width:1000px;font:bold 8.3px/1 'Liberation Serif', serif;color:#4f8aa3;text-align:center;white-space:nowrap;-webkit-text-stroke:0.25px #4f8aa3;">1</div><div style="left:-168px;top:120.66px;width:1000px;font:bold 8.3px/1 'Liberation Serif', serif;color:#4f8aa3;text-align:center;white-space:nowrap;-webkit-text-stroke:0.25px #4f8aa3;">2</div><div style="left:-168px;top:133.51px;width:1000px;font:bold 8.3px/1 'Liberation Serif', serif;color:#4f8aa3;text-align:center;white-space:nowrap;-webkit-text-stroke:0.25px #4f8aa3;">3</div><div style="left:-168px;top:146.36px;width:1000px;font:bold 8.3px/1 'Liberation Serif', serif;color:#4f8aa3;text-align:center;white-space:nowrap;-webkit-text-stroke:0.25px #4f8aa3;">4</div><div style="left:-168px;top:159.21px;width:1000px;font:bold 8.3px/1 'Liberation Serif', serif;color:#4f8aa3;text-align:center;white-space:nowrap;-webkit-text-stroke:0.25px #4f8aa3;">5</div><div style="left:38px;top:181.7px;width:247.4px;height:19px;background:#448dab;border-radius:3px;"></div><div style="left:-338.3px;top:185.22px;width:1000px;font:bold 11px/1 'Liberation Serif', serif;color:#fff;text-align:center;white-space:nowrap;-webkit-text-stroke:0.25px #fff;">March</div><div style="left:-447px;top:203.96px;width:1000px;font:bold 8px/1 'Liberation Serif', serif;color:#4f8aa3;text-align:center;white-space:nowrap;-webkit-text-stroke:0.25px #4f8aa3;">WK</div><div style="left:68.3px;top:200.7px;width:10.4px;height:90px;background:#f3f0f1;"></div><div style="left:38px;top:213px;width:247.4px;height:1px;background:#8c8c8c;"></div><div style="left:-447px;top:230.61px;width:1000px;font:bold 8.3px/1 'Liberation Serif', serif;color:#4f8aa3;text-align:center;white-space:nowrap;-webkit-text-stroke:0.25px #4f8aa3;">10</div><div style="left:-447px;top:243.46px;width:1000px;font:bold 8.3px/1 'Liberation Serif', serif;color:#4f8aa3;text-align:center;white-space:nowrap;-webkit-text-stroke:0.25px #4f8aa3;">11</div><div style="left:-447px;top:256.31px;width:1000px;font:bold 8.3px/1 'Liberation Serif', serif;color:#4f8aa3;text-align:center;white-space:nowrap;-webkit-text-stroke:0.25px #4f8aa3;">12</div><div style="left:-447px;top:269.16px;width:1000px;font:bold 8.3px/1 'Liberation Serif', serif;color:#4f8aa3;text-align:center;white-space:nowrap;-webkit-text-stroke:0.25px #4f8aa3;">13</div><div style="left:-447px;top:282.01px;width:1000px;font:bold 8.3px/1 'Liberation Serif', serif;color:#4f8aa3;text-align:center;white-space:nowrap;-webkit-text-stroke:0.25px #4f8aa3;">14</div><div style="left:317px;top:181.7px;width:247.7px;height:19px;background:#448dab;border-radius:3px;"></div><div style="left:-59.15px;top:185.22px;width:1000px;font:bold 11px/1 'Liberation Serif', serif;color:#fff;text-align:center;white-space:nowrap;-webkit-text-stroke:0.25px #fff;">April</div><div style="left:-168px;top:203.96px;width:1000px;font:bold 8px/1 'Liberation Serif', serif;color:#4f8aa3;text-align:center;white-space:nowrap;-webkit-text-stroke:0.25px #4f8aa3;">WK</div><div style="left:347.3px;top:200.7px;width:10.4px;height:90px;background:#f3f0f1;"></div><div style="left:317px;top:213px;width:247.7px;height:1px;background:#8c8c8c;"></div><div style="left:-168px;top:230.61px;width:1000px;font:bold 8.3px/1 'Liberation Serif', serif;color:#4f8aa3;text-align:center;white-space:nowrap;-webkit-text-stroke:0.25px #4f8aa3;">10</div><div style="left:-168px;top:243.46px;width:1000px;font:bold 8.3px/1 'Liberation Serif', serif;color:#4f8aa3;text-align:center;white-space:nowrap;-webkit-text-stroke:0.25px #4f8aa3;">11</div><div style="left:-168px;top:256.31px;width:1000px;font:bold 8.3px/1 'Liberation Serif', serif;color:#4f8aa3;text-align:center;white-space:nowrap;-webkit-text-stroke:0.25px #4f8aa3;">12</div><div style="left:-168px;top:269.16px;width:1000px;font:bold 8.3px/1 'Liberation Serif', serif;color:#4f8aa3;text-align:center;white-space:nowrap;-webkit-text-stroke:0.25px #4f8aa3;">13</div><div style="left:-168px;top:282.01px;width:1000px;font:bold 8.3px/1 'Liberation Serif', serif;color:#4f8aa3;text-align:center;white-space:nowrap;-webkit-text-stroke:0.25px #4f8aa3;">14</div><div style="left:38px;top:305.1px;width:247.4px;height:19px;background:#448dab;border-radius:3px;"></div><div style="left:-338.3px;top:308.62px;width:1000px;font:bold 11px/1 'Liberation Serif', serif;color:#fff;text-align:center;white-space:nowrap;-webkit-text-stroke:0.25px #fff;">May</div><div style="left:-447px;top:327.36px;width:1000px;font:bold 8px/1 'Liberation Serif', serif;color:#4f8aa3;text-align:center;white-space:nowrap;-webkit-text-stroke:0.25px #4f8aa3;">WK</div><div style="left:68.3px;top:324.1px;width:10.4px;height:90px;background:#f3f0f1;"></div><div style="left:38px;top:336px;width:247.4px;height:1px;background:#8c8c8c;"></div><div style="left:-447px;top:341.81px;width:1000px;font:bold 8.3px/1 'Liberation Serif', serif;color:#4f8aa3;text-align:center;white-space:nowrap;-webkit-text-stroke:0.25px #4f8aa3;">18</div><div style="left:-447px;top:354.66px;width:1000px;font:bold 8.3px/1 'Liberation Serif', serif;color:#4f8aa3;text-align:center;white-space:nowrap;-webkit-text-stroke:0.25px #4f8aa3;">19</div><div style="left:-447px;top:367.51px;width:1000px;font:bold 8.3px/1 'Liberation Serif', serif;color:#4f8aa3;text-align:center;white-space:nowrap;-webkit-text-stroke:0.25px #4f8aa3;">20</div><div style="left:-447px;top:380.36px;width:1000px;font:bold 8.3px/1 'Liberation Serif', serif;color:#4f8aa3;text-align:center;white-space:nowrap;-webkit-text-stroke:0.25px #4f8aa3;">21</div><div style="left:-447px;top:393.21px;width:1000px;font:bold 8.3px/1 'Liberation Serif', serif;color:#4f8aa3;text-align:center;white-space:nowrap;-webkit-text-stroke:0.25px #4f8aa3;">22</div><div style="left:-447px;top:406.06px;width:1000px;font:bold 8.3px/1 'Liberation Serif', serif;color:#4f8aa3;text-align:center;white-space:nowrap;-webkit-text-stroke:0.25px #4f8aa3;">23</div><div style="left:317px;top:305.1px;width:247.7px;height:19px;background:#448dab;border-radius:3px;"></div><div style="left:-59.15px;top:308.62px;width:1000px;font:bold 11px/1 'Liberation Serif', serif;color:#fff;text-align:center;white-space:nowrap;-webkit-text-stroke:0.25px #fff;">June</div><div style="left:-168px;top:327.36px;width:1000px;font:bold 8px/1 'Liberation Serif', serif;color:#4f8aa3;text-align:center;white-space:nowrap;-webkit-text-stroke:0.25px #4f8aa3;">WK</div><div style="left:347.3px;top:324.1px;width:10.4px;height:90px;background:#f3f0f1;"></div><div style="left:317px;top:336px;width:247.7px;height:1px;background:#8c8c8c;"></div><div style="left:-168px;top:341.81px;width:1000px;font:bold 8.3px/1 'Liberation Serif', serif;color:#4f8aa3;text-align:center;white-space:nowrap;-webkit-text-stroke:0.25px #4f8aa3;">18</div><div style="left:-168px;top:354.66px;width:1000px;font:bold 8.3px/1 'Liberation Serif', serif;color:#4f8aa3;text-align:center;white-space:nowrap;-webkit-text-stroke:0.25px #4f8aa3;">19</div><div style="left:-168px;top:367.51px;width:1000px;font:bold 8.3px/1 'Liberation Serif', serif;color:#4f8aa3;text-align:center;white-space:nowrap;-webkit-text-stroke:0.25px #4f8aa3;">20</div><div style="left:-168px;top:380.36px;width:1000px;font:bold 8.3px/1 'Liberation Serif', serif;color:#4f8aa3;text-align:center;white-space:nowrap;-webkit-text-stroke:0.25px #4f8aa3;">21</div><div style="left:-168px;top:393.21px;width:1000px;font:bold 8.3px/1 'Liberation Serif', serif;color:#4f8aa3;text-align:center;white-space:nowrap;-webkit-text-stroke:0.25px #4f8aa3;">22</div><div style="left:-168px;top:406.06px;width:1000px;font:bold 8.3px/1 'Liberation Serif', serif;color:#4f8aa3;text-align:center;white-space:nowrap;-webkit-text-stroke:0.25px #4f8aa3;">23</div><div style="left:38px;top:428.5px;width:247.4px;height:19px;background:#448dab;border-radius:3px;"></div><div style="left:-338.3px;top:432.02px;width:1000px;font:bold 11px/1 'Liberation Serif', serif;color:#fff;text-align:center;white-space:nowrap;-webkit-text-stroke:0.25px #fff;">July</div><div style="left:-447px;top:450.76px;width:1000px;font:bold 8px/1 'Liberation Serif', serif;color:#4f8aa3;text-align:center;white-space:nowrap;-webkit-text-stroke:0.25px #4f8aa3;">WK</div><div style="left:68.3px;top:447.5px;width:10.4px;height:90px;background:#f3f0f1;"></div><div style="left:38px;top:460px;width:247.4px;height:1px;background:#8c8c8c;"></div><div style="left:-447px;top:477.71px;width:1000px;font:bold 8.3px/1 'Liberation Serif', serif;color:#4f8aa3;text-align:center;white-space:nowrap;-webkit-text-stroke:0.25px #4f8aa3;">27</div><div style="left:-447px;top:490.56px;width:1000px;font:bold 8.3px/1 'Liberation Serif', serif;color:#4f8aa3;text-align:center;white-space:nowrap;-webkit-text-stroke:0.25px #4f8aa3;">28</div><div style="left:-447px;top:503.41px;width:1000px;font:bold 8.3px/1 'Liberation Serif', serif;color:#4f8aa3;text-align:center;white-space:nowrap;-webkit-text-stroke:0.25px #4f8aa3;">29</div><div style="left:-447px;top:516.26px;width:1000px;font:bold 8.3px/1 'Liberation Serif', serif;color:#4f8aa3;text-align:center;white-space:nowrap;-webkit-text-stroke:0.25px #4f8aa3;">30</div><div style="left:-447px;top:529.11px;width:1000px;font:bold 8.3px/1 'Liberation Serif', serif;color:#4f8aa3;text-align:center;white-space:nowrap;-webkit-text-stroke:0.25px #4f8aa3;">31</div><div style="left:317px;top:428.5px;width:247.7px;height:19px;background:#448dab;border-radius:3px;"></div><div style="left:-59.15px;top:432.02px;width:1000px;font:bold 11px/1 'Liberation Serif', serif;color:#fff;text-align:center;white-space:nowrap;-webkit-text-stroke:0.25px #fff;">August</div><div style="left:-168px;top:450.76px;width:1000px;font:bold 8px/1 'Liberation Serif', serif;color:#4f8aa3;text-align:center;white-space:nowrap;-webkit-text-stroke:0.25px #4f8aa3;">WK</div><div style="left:347.3px;top:447.5px;width:10.4px;height:90px;background:#f3f0f1;"></div><div style="left:317px;top:460px;width:247.7px;height:1px;background:#8c8c8c;"></div><div style="left:-168px;top:477.71px;width:1000px;font:bold 8.3px/1 'Liberation Serif', serif;color:#4f8aa3;text-align:center;white-space:nowrap;-webkit-text-stroke:0.25px #4f8aa3;">27</div><div style="left:-168px;top:490.56px;width:1000px;font:bold 8.3px/1 'Liberation Serif', serif;color:#4f8aa3;text-align:center;white-space:nowrap;-webkit-text-stroke:0.25px #4f8aa3;">28</div><div style="left:-168px;top:503.41px;width:1000px;font:bold 8.3px/1 'Liberation Serif', serif;color:#4f8aa3;text-align:center;white-space:nowrap;-webkit-text-stroke:0.25px #4f8aa3;">29</div><div style="left:-168px;top:516.26px;width:1000px;font:bold 8.3px/1 'Liberation Serif', serif;color:#4f8aa3;text-align:center;white-space:nowrap;-webkit-text-stroke:0.25px #4f8aa3;">30</div><div style="left:-168px;top:529.11px;width:1000px;font:bold 8.3px/1 'Liberation Serif', serif;color:#4f8aa3;text-align:center;white-space:nowrap;-webkit-text-stroke:0.25px #4f8aa3;">31</div><div style="left:38px;top:551.9px;width:247.4px;height:19px;background:#448dab;border-radius:3px;"></div><div style="left:-338.3px;top:555.42px;width:1000px;font:bold 11px/1 'Liberation Serif', serif;color:#fff;text-align:center;white-space:nowrap;-webkit-text-stroke:0.25px #fff;">September</div><div style="left:-447px;top:574.16px;width:1000px;font:bold 8px/1 'Liberation Serif', serif;color:#4f8aa3;text-align:center;white-space:nowrap;-webkit-text-stroke:0.25px #4f8aa3;">WK</div><div style="left:68.3px;top:570.9px;width:10.4px;height:90px;background:#f3f0f1;"></div><div style="left:38px;top:583px;width:247.4px;height:1px;background:#8c8c8c;"></div><div style="left:-447px;top:600.81px;width:1000px;font:bold 8.3px/1 'Liberation Serif', serif;color:#4f8aa3;text-align:center;white-space:nowrap;-webkit-text-stroke:0.25px #4f8aa3;">36</div><div style="left:-447px;top:613.66px;width:1000px;font:bold 8.3px/1 'Liberation Serif', serif;color:#4f8aa3;text-align:center;white-space:nowrap;-webkit-text-stroke:0.25px #4f8aa3;">37</div><div style="left:-447px;top:626.51px;width:1000px;font:bold 8.3px/1 'Liberation Serif', serif;color:#4f8aa3;text-align:center;white-space:nowrap;-webkit-text-stroke:0.25px #4f8aa3;">38</div><div style="left:-447px;top:639.36px;width:1000px;font:bold 8.3px/1 'Liberation Serif', serif;color:#4f8aa3;text-align:center;white-space:nowrap;-webkit-text-stroke:0.25px #4f8aa3;">39</div><div style="left:-447px;top:652.21px;width:1000px;font:bold 8.3px/1 'Liberation Serif', serif;color:#4f8aa3;text-align:center;white-space:nowrap;-webkit-text-stroke:0.25px #4f8aa3;">40</div><div style="left:317px;top:551.9px;width:247.7px;height:19px;background:#448dab;border-radius:3px;"></div><div style="left:-59.15px;top:555.42px;width:1000px;font:bold 11px/1 'Liberation Serif', serif;color:#fff;text-align:center;white-space:nowrap;-webkit-text-stroke:0.25px #fff;">October</div><div style="left:-168px;top:574.16px;width:1000px;font:bold 8px/1 'Liberation Serif', serif;color:#4f8aa3;text-align:center;white-space:nowrap;-webkit-text-stroke:0.25px #4f8aa3;">WK</div><div style="left:347.3px;top:570.9px;width:10.4px;height:90px;background:#f3f0f1;"></div><div style="left:317px;top:583px;width:247.7px;height:1px;background:#8c8c8c;"></div><div style="left:-168px;top:600.81px;width:1000px;font:bold 8.3px/1 'Liberation Serif', serif;color:#4f8aa3;text-align:center;white-space:nowrap;-webkit-text-stroke:0.25px #4f8aa3;">36</div><div style="left:-168px;top:613.66px;width:1000px;font:bold 8.3px/1 'Liberation Serif', serif;color:#4f8aa3;text-align:center;white-space:nowrap;-webkit-text-stroke:0.25px #4f8aa3;">37</div><div style="left:-168px;top:626.51px;width:1000px;font:bold 8.3px/1 'Liberation Serif', serif;color:#4f8aa3;text-align:center;white-space:nowrap;-webkit-text-stroke:0.25px #4f8aa3;">38</div><div style="left:-168px;top:639.36px;width:1000px;font:bold 8.3px/1 'Liberation Serif', serif;color:#4f8aa3;text-align:center;white-space:nowrap;-webkit-text-stroke:0.25px #4f8aa3;">39</div><div style="left:-168px;top:652.21px;width:1000px;font:bold 8.3px/1 'Liberation Serif', serif;color:#4f8aa3;text-align:center;white-space:nowrap;-webkit-text-stroke:0.25px #4f8aa3;">40</div><div style="left:38px;top:675.3px;width:247.4px;height:19px;background:#448dab;border-radius:3px;"></div><div style="left:-338.3px;top:678.82px;width:1000px;font:bold 11px/1 'Liberation Serif', serif;color:#fff;text-align:center;white-space:nowrap;-webkit-text-stroke:0.25px #fff;">November</div><div style="left:-447px;top:697.56px;width:1000px;font:bold 8px/1 'Liberation Serif', serif;color:#4f8aa3;text-align:center;white-space:nowrap;-webkit-text-stroke:0.25px #4f8aa3;">WK</div><div style="left:68.3px;top:694.3px;width:10.4px;height:90px;background:#f3f0f1;"></div><div style="left:38px;top:706px;width:247.4px;height:1px;background:#8c8c8c;"></div><div style="left:-447px;top:724.01px;width:1000px;font:bold 8.3px/1 'Liberation Serif', serif;color:#4f8aa3;text-align:center;white-space:nowrap;-webkit-text-stroke:0.25px #4f8aa3;">45</div><div style="left:-447px;top:736.86px;width:1000px;font:bold 8.3px/1 'Liberation Serif', serif;color:#4f8aa3;text-align:center;white-space:nowrap;-webkit-text-stroke:0.25px #4f8aa3;">46</div><div style="left:-447px;top:749.71px;width:1000px;font:bold 8.3px/1 'Liberation Serif', serif;color:#4f8aa3;text-align:center;white-space:nowrap;-webkit-text-stroke:0.25px #4f8aa3;">47</div><div style="left:-447px;top:762.56px;width:1000px;font:bold 8.3px/1 'Liberation Serif', serif;color:#4f8aa3;text-align:center;white-space:nowrap;-webkit-text-stroke:0.25px #4f8aa3;">48</div><div style="left:-447px;top:775.41px;width:1000px;font:bold 8.3px/1 'Liberation Serif', serif;color:#4f8aa3;text-align:center;white-space:nowrap;-webkit-text-stroke:0.25px #4f8aa3;">49</div><div style="left:317px;top:675.3px;width:247.7px;height:19px;background:#448dab;border-radius:3px;"></div><div style="left:-59.15px;top:678.82px;width:1000px;font:bold 11px/1 'Liberation Serif', serif;color:#fff;text-align:center;white-space:nowrap;-webkit-text-stroke:0.25px #fff;">December</div><div style="left:-168px;top:697.56px;width:1000px;font:bold 8px/1 'Liberation Serif', serif;color:#4f8aa3;text-align:center;white-space:nowrap;-webkit-text-stroke:0.25px #4f8aa3;">WK</div><div style="left:347.3px;top:694.3px;width:10.4px;height:90px;background:#f3f0f1;"></div><div style="left:317px;top:706px;width:247.7px;height:1px;background:#8c8c8c;"></div><div style="left:-168px;top:724.01px;width:1000px;font:bold 8.3px/1 'Liberation Serif', serif;color:#4f8aa3;text-align:center;white-space:nowrap;-webkit-text-stroke:0.25px #4f8aa3;">45</div><div style="left:-168px;top:736.86px;width:1000px;font:bold 8.3px/1 'Liberation Serif', serif;color:#4f8aa3;text-align:center;white-space:nowrap;-webkit-text-stroke:0.25px #4f8aa3;">46</div><div style="left:-168px;top:749.71px;width:1000px;font:bold 8.3px/1 'Liberation Serif', serif;color:#4f8aa3;text-align:center;white-space:nowrap;-webkit-text-stroke:0.25px #4f8aa3;">47</div><div style="left:-168px;top:762.56px;width:1000px;font:bold 8.3px/1 'Liberation Serif', serif;color:#4f8aa3;text-align:center;white-space:nowrap;-webkit-text-stroke:0.25px #4f8aa3;">48</div><div style="left:-168px;top:775.41px;width:1000px;font:bold 8.3px/1 'Liberation Serif', serif;color:#4f8aa3;text-align:center;white-space:nowrap;-webkit-text-stroke:0.25px #4f8aa3;">49</div><div style="left:38px;top:797px;width:247.4px;height:1px;background:#8c8c8c;"></div><svg style="position:absolute;left:0px;top:781px;overflow:visible" width="42" height="42"><path d="M 0 4 A 38 38 0 0 1 38 42" fill="none" stroke="#0a0a0a" stroke-width="3.5" stroke-linecap="round" stroke-dasharray="0 7.45"/></svg></div><div class="pg" id="yr" style="left:547px;top:426px;width:600px;height:817px;border-radius:0px 18px 0px 0px;z-index:8;background:#fff"><div style="left:-446px;top:18.21px;width:1000px;font:bold 13.3px/1 'Liberation Serif', serif;color:#555;text-align:right;white-space:nowrap;letter-spacing:0.5px;transform:scaleX(0.91);transform-origin:right;-webkit-text-stroke:0.25px #555;">YEAR PLANNER 2026</div><div style="left:43px;top:38px;width:164.7px;height:22.3px;background:#448dab;border-radius:3px;"></div><div style="left:-374.65px;top:43.39px;width:1000px;font:bold 12.6px/1 'Liberation Serif', serif;color:#fff;text-align:center;white-space:nowrap;transform:scaleX(1.03);transform-origin:center;-webkit-text-stroke:0.25px #fff;">October</div><div style="left:43px;top:83px;width:164.7px;height:2px;background:#c2c2c2;"></div><div style="left:45px;top:66.82px;width:1000px;font:normal 11px/1 'Liberation Serif', serif;color:#8d8d8d;text-align:left;white-space:nowrap;">1</div><div style="left:59.4px;top:66.82px;width:1000px;font:normal 11px/1 'Liberation Serif', serif;color:#6a8790;text-align:left;white-space:nowrap;">T</div><div style="left:43px;top:106px;width:164.7px;height:2px;background:#c2c2c2;"></div><div style="left:45px;top:89.9px;width:1000px;font:normal 11px/1 'Liberation Serif', serif;color:#8d8d8d;text-align:left;white-space:nowrap;">2</div><div style="left:59.4px;top:89.9px;width:1000px;font:normal 11px/1 'Liberation Serif', serif;color:#6a8790;text-align:left;white-space:nowrap;">F</div><div style="left:43px;top:108.36px;width:164.7px;height:20.6px;background:#f1eff0;"></div><div style="left:43px;top:129px;width:164.7px;height:2px;background:#c2c2c2;"></div><div style="left:45px;top:112.98px;width:1000px;font:normal 11px/1 'Liberation Serif', serif;color:#8d8d8d;text-align:left;white-space:nowrap;">3</div><div style="left:59.4px;top:112.98px;width:1000px;font:normal 11px/1 'Liberation Serif', serif;color:#7c7c7c;text-align:left;white-space:nowrap;">Sa</div><div style="left:43px;top:131.44px;width:164.7px;height:20.6px;background:#f1eff0;"></div><div style="left:43px;top:152px;width:164.7px;height:2px;background:#c2c2c2;"></div><div style="left:45px;top:136.06px;width:1000px;font:normal 11px/1 'Liberation Serif', serif;color:#8d8d8d;text-align:left;white-space:nowrap;">4</div><div style="left:59.4px;top:136.06px;width:1000px;font:normal 11px/1 'Liberation Serif', serif;color:#7c7c7c;text-align:left;white-space:nowrap;">Su</div><div style="left:43px;top:175px;width:164.7px;height:2px;background:#c2c2c2;"></div><div style="left:45px;top:159.14px;width:1000px;font:normal 11px/1 'Liberation Serif', serif;color:#8d8d8d;text-align:left;white-space:nowrap;">5</div><div style="left:59.4px;top:159.14px;width:1000px;font:normal 11px/1 'Liberation Serif', serif;color:#6a8790;text-align:left;white-space:nowrap;">M</div><div style="left:43px;top:198px;width:164.7px;height:2px;background:#c2c2c2;"></div><div style="left:45px;top:182.22px;width:1000px;font:normal 11px/1 'Liberation Serif', serif;color:#8d8d8d;text-align:left;white-space:nowrap;">6</div><div style="left:59.4px;top:182.22px;width:1000px;font:normal 11px/1 'Liberation Serif', serif;color:#6a8790;text-align:left;white-space:nowrap;">T</div><div style="left:43px;top:221px;width:164.7px;height:2px;background:#c2c2c2;"></div><div style="left:45px;top:205.3px;width:1000px;font:normal 11px/1 'Liberation Serif', serif;color:#8d8d8d;text-align:left;white-space:nowrap;">7</div><div style="left:59.4px;top:205.3px;width:1000px;font:normal 11px/1 'Liberation Serif', serif;color:#6a8790;text-align:left;white-space:nowrap;">W</div><div style="left:43px;top:244px;width:164.7px;height:2px;background:#c2c2c2;"></div><div style="left:45px;top:228.38px;width:1000px;font:normal 11px/1 'Liberation Serif', serif;color:#8d8d8d;text-align:left;white-space:nowrap;">8</div><div style="left:59.4px;top:228.38px;width:1000px;font:normal 11px/1 'Liberation Serif', serif;color:#6a8790;text-align:left;white-space:nowrap;">T</div><div style="left:43px;top:267px;width:164.7px;height:2px;background:#c2c2c2;"></div><div style="left:45px;top:251.46px;width:1000px;font:normal 11px/1 'Liberation Serif', serif;color:#8d8d8d;text-align:left;white-space:nowrap;">9</div><div style="left:59.4px;top:251.46px;width:1000px;font:normal 11px/1 'Liberation Serif', serif;color:#6a8790;text-align:left;white-space:nowrap;">F</div><div style="left:43px;top:269.92px;width:164.7px;height:20.6px;background:#f1eff0;"></div><div style="left:43px;top:290px;width:164.7px;height:2px;background:#c2c2c2;"></div><div style="left:45px;top:274.54px;width:1000px;font:normal 11px/1 'Liberation Serif', serif;color:#8d8d8d;text-align:left;white-space:nowrap;">10</div><div style="left:59.4px;top:274.54px;width:1000px;font:normal 11px/1 'Liberation Serif', serif;color:#7c7c7c;text-align:left;white-space:nowrap;">Sa</div><div style="left:43px;top:293px;width:164.7px;height:20.6px;background:#f1eff0;"></div><div style="left:43px;top:313px;width:164.7px;height:2px;background:#c2c2c2;"></div><div style="left:45px;top:297.62px;width:1000px;font:normal 11px/1 'Liberation Serif', serif;color:#8d8d8d;text-align:left;white-space:nowrap;">11</div><div style="left:59.4px;top:297.62px;width:1000px;font:normal 11px/1 'Liberation Serif', serif;color:#7c7c7c;text-align:left;white-space:nowrap;">Su</div><div style="left:43px;top:336px;width:164.7px;height:2px;background:#c2c2c2;"></div><div style="left:45px;top:320.7px;width:1000px;font:normal 11px/1 'Liberation Serif', serif;color:#8d8d8d;text-align:left;white-space:nowrap;">12</div><div style="left:59.4px;top:320.7px;width:1000px;font:normal 11px/1 'Liberation Serif', serif;color:#6a8790;text-align:left;white-space:nowrap;">M</div><div style="left:43px;top:360px;width:164.7px;height:2px;background:#c2c2c2;"></div><div style="left:45px;top:343.78px;width:1000px;font:normal 11px/1 'Liberation Serif', serif;color:#8d8d8d;text-align:left;white-space:nowrap;">13</div><div style="left:59.4px;top:343.78px;width:1000px;font:normal 11px/1 'Liberation Serif', serif;color:#6a8790;text-align:left;white-space:nowrap;">T</div><div style="left:43px;top:383px;width:164.7px;height:2px;background:#c2c2c2;"></div><div style="left:45px;top:366.86px;width:1000px;font:normal 11px/1 'Liberation Serif', serif;color:#8d8d8d;text-align:left;white-space:nowrap;">14</div><div style="left:59.4px;top:366.86px;width:1000px;font:normal 11px/1 'Liberation Serif', serif;color:#6a8790;text-align:left;white-space:nowrap;">W</div><div style="left:43px;top:406px;width:164.7px;height:2px;background:#c2c2c2;"></div><div style="left:45px;top:389.94px;width:1000px;font:normal 11px/1 'Liberation Serif', serif;color:#8d8d8d;text-align:left;white-space:nowrap;">15</div><div style="left:59.4px;top:389.94px;width:1000px;font:normal 11px/1 'Liberation Serif', serif;color:#6a8790;text-align:left;white-space:nowrap;">T</div><div style="left:43px;top:429px;width:164.7px;height:2px;background:#c2c2c2;"></div><div style="left:45px;top:413.02px;width:1000px;font:normal 11px/1 'Liberation Serif', serif;color:#8d8d8d;text-align:left;white-space:nowrap;">16</div><div style="left:59.4px;top:413.02px;width:1000px;font:normal 11px/1 'Liberation Serif', serif;color:#6a8790;text-align:left;white-space:nowrap;">F</div><div style="left:43px;top:431.48px;width:164.7px;height:20.6px;background:#f1eff0;"></div><div style="left:43px;top:452px;width:164.7px;height:2px;background:#c2c2c2;"></div><div style="left:45px;top:436.1px;width:1000px;font:normal 11px/1 'Liberation Serif', serif;color:#8d8d8d;text-align:left;white-space:nowrap;">17</div><div style="left:59.4px;top:436.1px;width:1000px;font:normal 11px/1 'Liberation Serif', serif;color:#7c7c7c;text-align:left;white-space:nowrap;">Sa</div><div style="left:43px;top:454.56px;width:164.7px;height:20.6px;background:#f1eff0;"></div><div style="left:43px;top:475px;width:164.7px;height:2px;background:#c2c2c2;"></div><div style="left:45px;top:459.18px;width:1000px;font:normal 11px/1 'Liberation Serif', serif;color:#8d8d8d;text-align:left;white-space:nowrap;">18</div><div style="left:59.4px;top:459.18px;width:1000px;font:normal 11px/1 'Liberation Serif', serif;color:#7c7c7c;text-align:left;white-space:nowrap;">Su</div><div style="left:43px;top:498px;width:164.7px;height:2px;background:#c2c2c2;"></div><div style="left:45px;top:482.26px;width:1000px;font:normal 11px/1 'Liberation Serif', serif;color:#8d8d8d;text-align:left;white-space:nowrap;">19</div><div style="left:59.4px;top:482.26px;width:1000px;font:normal 11px/1 'Liberation Serif', serif;color:#6a8790;text-align:left;white-space:nowrap;">M</div><div style="left:43px;top:521px;width:164.7px;height:2px;background:#c2c2c2;"></div><div style="left:45px;top:505.34px;width:1000px;font:normal 11px/1 'Liberation Serif', serif;color:#8d8d8d;text-align:left;white-space:nowrap;">20</div><div style="left:59.4px;top:505.34px;width:1000px;font:normal 11px/1 'Liberation Serif', serif;color:#6a8790;text-align:left;white-space:nowrap;">T</div><div style="left:43px;top:544px;width:164.7px;height:2px;background:#c2c2c2;"></div><div style="left:45px;top:528.42px;width:1000px;font:normal 11px/1 'Liberation Serif', serif;color:#8d8d8d;text-align:left;white-space:nowrap;">21</div><div style="left:59.4px;top:528.42px;width:1000px;font:normal 11px/1 'Liberation Serif', serif;color:#6a8790;text-align:left;white-space:nowrap;">W</div><div style="left:43px;top:567px;width:164.7px;height:2px;background:#c2c2c2;"></div><div style="left:45px;top:551.5px;width:1000px;font:normal 11px/1 'Liberation Serif', serif;color:#8d8d8d;text-align:left;white-space:nowrap;">22</div><div style="left:59.4px;top:551.5px;width:1000px;font:normal 11px/1 'Liberation Serif', serif;color:#6a8790;text-align:left;white-space:nowrap;">T</div><div style="left:43px;top:590px;width:164.7px;height:2px;background:#c2c2c2;"></div><div style="left:45px;top:574.58px;width:1000px;font:normal 11px/1 'Liberation Serif', serif;color:#8d8d8d;text-align:left;white-space:nowrap;">23</div><div style="left:59.4px;top:574.58px;width:1000px;font:normal 11px/1 'Liberation Serif', serif;color:#6a8790;text-align:left;white-space:nowrap;">F</div><div style="left:43px;top:593.04px;width:164.7px;height:20.6px;background:#f1eff0;"></div><div style="left:43px;top:613px;width:164.7px;height:2px;background:#c2c2c2;"></div><div style="left:45px;top:597.66px;width:1000px;font:normal 11px/1 'Liberation Serif', serif;color:#8d8d8d;text-align:left;white-space:nowrap;">24</div><div style="left:59.4px;top:597.66px;width:1000px;font:normal 11px/1 'Liberation Serif', serif;color:#7c7c7c;text-align:left;white-space:nowrap;">Sa</div><div style="left:43px;top:616.12px;width:164.7px;height:20.6px;background:#f1eff0;"></div><div style="left:43px;top:637px;width:164.7px;height:2px;background:#c2c2c2;"></div><div style="left:45px;top:620.74px;width:1000px;font:normal 11px/1 'Liberation Serif', serif;color:#8d8d8d;text-align:left;white-space:nowrap;">25</div><div style="left:59.4px;top:620.74px;width:1000px;font:normal 11px/1 'Liberation Serif', serif;color:#7c7c7c;text-align:left;white-space:nowrap;">Su</div><div style="left:43px;top:660px;width:164.7px;height:2px;background:#c2c2c2;"></div><div style="left:45px;top:643.82px;width:1000px;font:normal 11px/1 'Liberation Serif', serif;color:#8d8d8d;text-align:left;white-space:nowrap;">26</div><div style="left:59.4px;top:643.82px;width:1000px;font:normal 11px/1 'Liberation Serif', serif;color:#6a8790;text-align:left;white-space:nowrap;">M</div><div style="left:43px;top:683px;width:164.7px;height:2px;background:#c2c2c2;"></div><div style="left:45px;top:666.9px;width:1000px;font:normal 11px/1 'Liberation Serif', serif;color:#8d8d8d;text-align:left;white-space:nowrap;">27</div><div style="left:59.4px;top:666.9px;width:1000px;font:normal 11px/1 'Liberation Serif', serif;color:#6a8790;text-align:left;white-space:nowrap;">T</div><div style="left:43px;top:706px;width:164.7px;height:2px;background:#c2c2c2;"></div><div style="left:45px;top:689.98px;width:1000px;font:normal 11px/1 'Liberation Serif', serif;color:#8d8d8d;text-align:left;white-space:nowrap;">28</div><div style="left:59.4px;top:689.98px;width:1000px;font:normal 11px/1 'Liberation Serif', serif;color:#6a8790;text-align:left;white-space:nowrap;">W</div><div style="left:43px;top:729px;width:164.7px;height:2px;background:#c2c2c2;"></div><div style="left:45px;top:713.06px;width:1000px;font:normal 11px/1 'Liberation Serif', serif;color:#8d8d8d;text-align:left;white-space:nowrap;">29</div><div style="left:59.4px;top:713.06px;width:1000px;font:normal 11px/1 'Liberation Serif', serif;color:#6a8790;text-align:left;white-space:nowrap;">T</div><div style="left:43px;top:752px;width:164.7px;height:2px;background:#c2c2c2;"></div><div style="left:45px;top:736.14px;width:1000px;font:normal 11px/1 'Liberation Serif', serif;color:#8d8d8d;text-align:left;white-space:nowrap;">30</div><div style="left:59.4px;top:736.14px;width:1000px;font:normal 11px/1 'Liberation Serif', serif;color:#6a8790;text-align:left;white-space:nowrap;">F</div><div style="left:43px;top:754.6px;width:164.7px;height:20.6px;background:#f1eff0;"></div><div style="left:43px;top:775px;width:164.7px;height:2px;background:#c2c2c2;"></div><div style="left:45px;top:759.22px;width:1000px;font:normal 11px/1 'Liberation Serif', serif;color:#8d8d8d;text-align:left;white-space:nowrap;">31</div><div style="left:59.4px;top:759.22px;width:1000px;font:normal 11px/1 'Liberation Serif', serif;color:#7c7c7c;text-align:left;white-space:nowrap;">Sa</div><div style="left:216.7px;top:38px;width:164.7px;height:22.3px;background:#448dab;border-radius:3px;"></div><div style="left:-200.95px;top:43.39px;width:1000px;font:bold 12.6px/1 'Liberation Serif', serif;color:#fff;text-align:center;white-space:nowrap;transform:scaleX(1.02);transform-origin:center;-webkit-text-stroke:0.25px #fff;">November</div><div style="left:216.7px;top:62.2px;width:164.7px;height:20.6px;background:#f1eff0;"></div><div style="left:216.7px;top:83px;width:164.7px;height:2px;background:#c2c2c2;"></div><div style="left:218.7px;top:66.82px;width:1000px;font:normal 11px/1 'Liberation Serif', serif;color:#8d8d8d;text-align:left;white-space:nowrap;">1</div><div style="left:233.1px;top:66.82px;width:1000px;font:normal 11px/1 'Liberation Serif', serif;color:#7c7c7c;text-align:left;white-space:nowrap;">Su</div><div style="left:216.7px;top:106px;width:164.7px;height:2px;background:#c2c2c2;"></div><div style="left:218.7px;top:89.9px;width:1000px;font:normal 11px/1 'Liberation Serif', serif;color:#8d8d8d;text-align:left;white-space:nowrap;">2</div><div style="left:233.1px;top:89.9px;width:1000px;font:normal 11px/1 'Liberation Serif', serif;color:#6a8790;text-align:left;white-space:nowrap;">M</div><div style="left:216.7px;top:129px;width:164.7px;height:2px;background:#c2c2c2;"></div><div style="left:218.7px;top:112.98px;width:1000px;font:normal 11px/1 'Liberation Serif', serif;color:#8d8d8d;text-align:left;white-space:nowrap;">3</div><div style="left:233.1px;top:112.98px;width:1000px;font:normal 11px/1 'Liberation Serif', serif;color:#6a8790;text-align:left;white-space:nowrap;">T</div><div style="left:216.7px;top:152px;width:164.7px;height:2px;background:#c2c2c2;"></div><div style="left:218.7px;top:136.06px;width:1000px;font:normal 11px/1 'Liberation Serif', serif;color:#8d8d8d;text-align:left;white-space:nowrap;">4</div><div style="left:233.1px;top:136.06px;width:1000px;font:normal 11px/1 'Liberation Serif', serif;color:#6a8790;text-align:left;white-space:nowrap;">W</div><div style="left:216.7px;top:175px;width:164.7px;height:2px;background:#c2c2c2;"></div><div style="left:218.7px;top:159.14px;width:1000px;font:normal 11px/1 'Liberation Serif', serif;color:#8d8d8d;text-align:left;white-space:nowrap;">5</div><div style="left:233.1px;top:159.14px;width:1000px;font:normal 11px/1 'Liberation Serif', serif;color:#6a8790;text-align:left;white-space:nowrap;">T</div><div style="left:216.7px;top:198px;width:164.7px;height:2px;background:#c2c2c2;"></div><div style="left:218.7px;top:182.22px;width:1000px;font:normal 11px/1 'Liberation Serif', serif;color:#8d8d8d;text-align:left;white-space:nowrap;">6</div><div style="left:233.1px;top:182.22px;width:1000px;font:normal 11px/1 'Liberation Serif', serif;color:#6a8790;text-align:left;white-space:nowrap;">F</div><div style="left:216.7px;top:200.68px;width:164.7px;height:20.6px;background:#f1eff0;"></div><div style="left:216.7px;top:221px;width:164.7px;height:2px;background:#c2c2c2;"></div><div style="left:218.7px;top:205.3px;width:1000px;font:normal 11px/1 'Liberation Serif', serif;color:#8d8d8d;text-align:left;white-space:nowrap;">7</div><div style="left:233.1px;top:205.3px;width:1000px;font:normal 11px/1 'Liberation Serif', serif;color:#7c7c7c;text-align:left;white-space:nowrap;">Sa</div><div style="left:216.7px;top:223.76px;width:164.7px;height:20.6px;background:#f1eff0;"></div><div style="left:216.7px;top:244px;width:164.7px;height:2px;background:#c2c2c2;"></div><div style="left:218.7px;top:228.38px;width:1000px;font:normal 11px/1 'Liberation Serif', serif;color:#8d8d8d;text-align:left;white-space:nowrap;">8</div><div style="left:233.1px;top:228.38px;width:1000px;font:normal 11px/1 'Liberation Serif', serif;color:#7c7c7c;text-align:left;white-space:nowrap;">Su</div><div style="left:216.7px;top:267px;width:164.7px;height:2px;background:#c2c2c2;"></div><div style="left:218.7px;top:251.46px;width:1000px;font:normal 11px/1 'Liberation Serif', serif;color:#8d8d8d;text-align:left;white-space:nowrap;">9</div><div style="left:233.1px;top:251.46px;width:1000px;font:normal 11px/1 'Liberation Serif', serif;color:#6a8790;text-align:left;white-space:nowrap;">M</div><div style="left:216.7px;top:290px;width:164.7px;height:2px;background:#c2c2c2;"></div><div style="left:218.7px;top:274.54px;width:1000px;font:normal 11px/1 'Liberation Serif', serif;color:#8d8d8d;text-align:left;white-space:nowrap;">10</div><div style="left:233.1px;top:274.54px;width:1000px;font:normal 11px/1 'Liberation Serif', serif;color:#6a8790;text-align:left;white-space:nowrap;">T</div><div style="left:216.7px;top:313px;width:164.7px;height:2px;background:#c2c2c2;"></div><div style="left:218.7px;top:297.62px;width:1000px;font:normal 11px/1 'Liberation Serif', serif;color:#8d8d8d;text-align:left;white-space:nowrap;">11</div><div style="left:233.1px;top:297.62px;width:1000px;font:normal 11px/1 'Liberation Serif', serif;color:#6a8790;text-align:left;white-space:nowrap;">W</div><div style="left:216.7px;top:336px;width:164.7px;height:2px;background:#c2c2c2;"></div><div style="left:218.7px;top:320.7px;width:1000px;font:normal 11px/1 'Liberation Serif', serif;color:#8d8d8d;text-align:left;white-space:nowrap;">12</div><div style="left:233.1px;top:320.7px;width:1000px;font:normal 11px/1 'Liberation Serif', serif;color:#6a8790;text-align:left;white-space:nowrap;">T</div><div style="left:216.7px;top:360px;width:164.7px;height:2px;background:#c2c2c2;"></div><div style="left:218.7px;top:343.78px;width:1000px;font:normal 11px/1 'Liberation Serif', serif;color:#8d8d8d;text-align:left;white-space:nowrap;">13</div><div style="left:233.1px;top:343.78px;width:1000px;font:normal 11px/1 'Liberation Serif', serif;color:#6a8790;text-align:left;white-space:nowrap;">F</div><div style="left:216.7px;top:362.24px;width:164.7px;height:20.6px;background:#f1eff0;"></div><div style="left:216.7px;top:383px;width:164.7px;height:2px;background:#c2c2c2;"></div><div style="left:218.7px;top:366.86px;width:1000px;font:normal 11px/1 'Liberation Serif', serif;color:#8d8d8d;text-align:left;white-space:nowrap;">14</div><div style="left:233.1px;top:366.86px;width:1000px;font:normal 11px/1 'Liberation Serif', serif;color:#7c7c7c;text-align:left;white-space:nowrap;">Sa</div><div style="left:216.7px;top:385.32px;width:164.7px;height:20.6px;background:#f1eff0;"></div><div style="left:216.7px;top:406px;width:164.7px;height:2px;background:#c2c2c2;"></div><div style="left:218.7px;top:389.94px;width:1000px;font:normal 11px/1 'Liberation Serif', serif;color:#8d8d8d;text-align:left;white-space:nowrap;">15</div><div style="left:233.1px;top:389.94px;width:1000px;font:normal 11px/1 'Liberation Serif', serif;color:#7c7c7c;text-align:left;white-space:nowrap;">Su</div><div style="left:216.7px;top:429px;width:164.7px;height:2px;background:#c2c2c2;"></div><div style="left:218.7px;top:413.02px;width:1000px;font:normal 11px/1 'Liberation Serif', serif;color:#8d8d8d;text-align:left;white-space:nowrap;">16</div><div style="left:233.1px;top:413.02px;width:1000px;font:normal 11px/1 'Liberation Serif', serif;color:#6a8790;text-align:left;white-space:nowrap;">M</div><div style="left:216.7px;top:452px;width:164.7px;height:2px;background:#c2c2c2;"></div><div style="left:218.7px;top:436.1px;width:1000px;font:normal 11px/1 'Liberation Serif', serif;color:#8d8d8d;text-align:left;white-space:nowrap;">17</div><div style="left:233.1px;top:436.1px;width:1000px;font:normal 11px/1 'Liberation Serif', serif;color:#6a8790;text-align:left;white-space:nowrap;">T</div><div style="left:216.7px;top:475px;width:164.7px;height:2px;background:#c2c2c2;"></div><div style="left:218.7px;top:459.18px;width:1000px;font:normal 11px/1 'Liberation Serif', serif;color:#8d8d8d;text-align:left;white-space:nowrap;">18</div><div style="left:233.1px;top:459.18px;width:1000px;font:normal 11px/1 'Liberation Serif', serif;color:#6a8790;text-align:left;white-space:nowrap;">W</div><div style="left:216.7px;top:498px;width:164.7px;height:2px;background:#c2c2c2;"></div><div style="left:218.7px;top:482.26px;width:1000px;font:normal 11px/1 'Liberation Serif', serif;color:#8d8d8d;text-align:left;white-space:nowrap;">19</div><div style="left:233.1px;top:482.26px;width:1000px;font:normal 11px/1 'Liberation Serif', serif;color:#6a8790;text-align:left;white-space:nowrap;">T</div><div style="left:216.7px;top:521px;width:164.7px;height:2px;background:#c2c2c2;"></div><div style="left:218.7px;top:505.34px;width:1000px;font:normal 11px/1 'Liberation Serif', serif;color:#8d8d8d;text-align:left;white-space:nowrap;">20</div><div style="left:233.1px;top:505.34px;width:1000px;font:normal 11px/1 'Liberation Serif', serif;color:#6a8790;text-align:left;white-space:nowrap;">F</div><div style="left:216.7px;top:523.8px;width:164.7px;height:20.6px;background:#f1eff0;"></div><div style="left:216.7px;top:544px;width:164.7px;height:2px;background:#c2c2c2;"></div><div style="left:218.7px;top:528.42px;width:1000px;font:normal 11px/1 'Liberation Serif', serif;color:#8d8d8d;text-align:left;white-space:nowrap;">21</div><div style="left:233.1px;top:528.42px;width:1000px;font:normal 11px/1 'Liberation Serif', serif;color:#7c7c7c;text-align:left;white-space:nowrap;">Sa</div><div style="left:216.7px;top:546.88px;width:164.7px;height:20.6px;background:#f1eff0;"></div><div style="left:216.7px;top:567px;width:164.7px;height:2px;background:#c2c2c2;"></div><div style="left:218.7px;top:551.5px;width:1000px;font:normal 11px/1 'Liberation Serif', serif;color:#8d8d8d;text-align:left;white-space:nowrap;">22</div><div style="left:233.1px;top:551.5px;width:1000px;font:normal 11px/1 'Liberation Serif', serif;color:#7c7c7c;text-align:left;white-space:nowrap;">Su</div><div style="left:216.7px;top:590px;width:164.7px;height:2px;background:#c2c2c2;"></div><div style="left:218.7px;top:574.58px;width:1000px;font:normal 11px/1 'Liberation Serif', serif;color:#8d8d8d;text-align:left;white-space:nowrap;">23</div><div style="left:233.1px;top:574.58px;width:1000px;font:normal 11px/1 'Liberation Serif', serif;color:#6a8790;text-align:left;white-space:nowrap;">M</div><div style="left:216.7px;top:613px;width:164.7px;height:2px;background:#c2c2c2;"></div><div style="left:218.7px;top:597.66px;width:1000px;font:normal 11px/1 'Liberation Serif', serif;color:#8d8d8d;text-align:left;white-space:nowrap;">24</div><div style="left:233.1px;top:597.66px;width:1000px;font:normal 11px/1 'Liberation Serif', serif;color:#6a8790;text-align:left;white-space:nowrap;">T</div><div style="left:216.7px;top:637px;width:164.7px;height:2px;background:#c2c2c2;"></div><div style="left:218.7px;top:620.74px;width:1000px;font:normal 11px/1 'Liberation Serif', serif;color:#8d8d8d;text-align:left;white-space:nowrap;">25</div><div style="left:233.1px;top:620.74px;width:1000px;font:normal 11px/1 'Liberation Serif', serif;color:#6a8790;text-align:left;white-space:nowrap;">W</div><div style="left:216.7px;top:660px;width:164.7px;height:2px;background:#c2c2c2;"></div><div style="left:218.7px;top:643.82px;width:1000px;font:normal 11px/1 'Liberation Serif', serif;color:#8d8d8d;text-align:left;white-space:nowrap;">26</div><div style="left:233.1px;top:643.82px;width:1000px;font:normal 11px/1 'Liberation Serif', serif;color:#6a8790;text-align:left;white-space:nowrap;">T</div><div style="left:216.7px;top:683px;width:164.7px;height:2px;background:#c2c2c2;"></div><div style="left:218.7px;top:666.9px;width:1000px;font:normal 11px/1 'Liberation Serif', serif;color:#8d8d8d;text-align:left;white-space:nowrap;">27</div><div style="left:233.1px;top:666.9px;width:1000px;font:normal 11px/1 'Liberation Serif', serif;color:#6a8790;text-align:left;white-space:nowrap;">F</div><div style="left:216.7px;top:685.36px;width:164.7px;height:20.6px;background:#f1eff0;"></div><div style="left:216.7px;top:706px;width:164.7px;height:2px;background:#c2c2c2;"></div><div style="left:218.7px;top:689.98px;width:1000px;font:normal 11px/1 'Liberation Serif', serif;color:#8d8d8d;text-align:left;white-space:nowrap;">28</div><div style="left:233.1px;top:689.98px;width:1000px;font:normal 11px/1 'Liberation Serif', serif;color:#7c7c7c;text-align:left;white-space:nowrap;">Sa</div><div style="left:216.7px;top:708.44px;width:164.7px;height:20.6px;background:#f1eff0;"></div><div style="left:216.7px;top:729px;width:164.7px;height:2px;background:#c2c2c2;"></div><div style="left:218.7px;top:713.06px;width:1000px;font:normal 11px/1 'Liberation Serif', serif;color:#8d8d8d;text-align:left;white-space:nowrap;">29</div><div style="left:233.1px;top:713.06px;width:1000px;font:normal 11px/1 'Liberation Serif', serif;color:#7c7c7c;text-align:left;white-space:nowrap;">Su</div><div style="left:216.7px;top:752px;width:164.7px;height:2px;background:#c2c2c2;"></div><div style="left:218.7px;top:736.14px;width:1000px;font:normal 11px/1 'Liberation Serif', serif;color:#8d8d8d;text-align:left;white-space:nowrap;">30</div><div style="left:233.1px;top:736.14px;width:1000px;font:normal 11px/1 'Liberation Serif', serif;color:#6a8790;text-align:left;white-space:nowrap;">M</div><div style="left:389.5px;top:38px;width:165.5px;height:22.3px;background:#448dab;border-radius:3px;"></div><div style="left:-27.75px;top:43.39px;width:1000px;font:bold 12.6px/1 'Liberation Serif', serif;color:#fff;text-align:center;white-space:nowrap;transform:scaleX(1.03);transform-origin:center;-webkit-text-stroke:0.25px #fff;">December</div><div style="left:389.5px;top:83px;width:165.5px;height:2px;background:#c2c2c2;"></div><div style="left:391.5px;top:66.82px;width:1000px;font:normal 11px/1 'Liberation Serif', serif;color:#8d8d8d;text-align:left;white-space:nowrap;">1</div><div style="left:405.9px;top:66.82px;width:1000px;font:normal 11px/1 'Liberation Serif', serif;color:#6a8790;text-align:left;white-space:nowrap;">T</div><div style="left:389.5px;top:106px;width:165.5px;height:2px;background:#c2c2c2;"></div><div style="left:391.5px;top:89.9px;width:1000px;font:normal 11px/1 'Liberation Serif', serif;color:#8d8d8d;text-align:left;white-space:nowrap;">2</div><div style="left:405.9px;top:89.9px;width:1000px;font:normal 11px/1 'Liberation Serif', serif;color:#6a8790;text-align:left;white-space:nowrap;">W</div><div style="left:389.5px;top:129px;width:165.5px;height:2px;background:#c2c2c2;"></div><div style="left:391.5px;top:112.98px;width:1000px;font:normal 11px/1 'Liberation Serif', serif;color:#8d8d8d;text-align:left;white-space:nowrap;">3</div><div style="left:405.9px;top:112.98px;width:1000px;font:normal 11px/1 'Liberation Serif', serif;color:#6a8790;text-align:left;white-space:nowrap;">T</div><div style="left:389.5px;top:152px;width:165.5px;height:2px;background:#c2c2c2;"></div><div style="left:391.5px;top:136.06px;width:1000px;font:normal 11px/1 'Liberation Serif', serif;color:#8d8d8d;text-align:left;white-space:nowrap;">4</div><div style="left:405.9px;top:136.06px;width:1000px;font:normal 11px/1 'Liberation Serif', serif;color:#6a8790;text-align:left;white-space:nowrap;">F</div><div style="left:389.5px;top:154.52px;width:165.5px;height:20.6px;background:#f1eff0;"></div><div style="left:389.5px;top:175px;width:165.5px;height:2px;background:#c2c2c2;"></div><div style="left:391.5px;top:159.14px;width:1000px;font:normal 11px/1 'Liberation Serif', serif;color:#8d8d8d;text-align:left;white-space:nowrap;">5</div><div style="left:405.9px;top:159.14px;width:1000px;font:normal 11px/1 'Liberation Serif', serif;color:#7c7c7c;text-align:left;white-space:nowrap;">Sa</div><div style="left:389.5px;top:177.6px;width:165.5px;height:20.6px;background:#f1eff0;"></div><div style="left:389.5px;top:198px;width:165.5px;height:2px;background:#c2c2c2;"></div><div style="left:391.5px;top:182.22px;width:1000px;font:normal 11px/1 'Liberation Serif', serif;color:#8d8d8d;text-align:left;white-space:nowrap;">6</div><div style="left:405.9px;top:182.22px;width:1000px;font:normal 11px/1 'Liberation Serif', serif;color:#7c7c7c;text-align:left;white-space:nowrap;">Su</div><div style="left:389.5px;top:221px;width:165.5px;height:2px;background:#c2c2c2;"></div><div style="left:391.5px;top:205.3px;width:1000px;font:normal 11px/1 'Liberation Serif', serif;color:#8d8d8d;text-align:left;white-space:nowrap;">7</div><div style="left:405.9px;top:205.3px;width:1000px;font:normal 11px/1 'Liberation Serif', serif;color:#6a8790;text-align:left;white-space:nowrap;">M</div><div style="left:389.5px;top:244px;width:165.5px;height:2px;background:#c2c2c2;"></div><div style="left:391.5px;top:228.38px;width:1000px;font:normal 11px/1 'Liberation Serif', serif;color:#8d8d8d;text-align:left;white-space:nowrap;">8</div><div style="left:405.9px;top:228.38px;width:1000px;font:normal 11px/1 'Liberation Serif', serif;color:#6a8790;text-align:left;white-space:nowrap;">T</div><div style="left:389.5px;top:267px;width:165.5px;height:2px;background:#c2c2c2;"></div><div style="left:391.5px;top:251.46px;width:1000px;font:normal 11px/1 'Liberation Serif', serif;color:#8d8d8d;text-align:left;white-space:nowrap;">9</div><div style="left:405.9px;top:251.46px;width:1000px;font:normal 11px/1 'Liberation Serif', serif;color:#6a8790;text-align:left;white-space:nowrap;">W</div><div style="left:389.5px;top:290px;width:165.5px;height:2px;background:#c2c2c2;"></div><div style="left:391.5px;top:274.54px;width:1000px;font:normal 11px/1 'Liberation Serif', serif;color:#8d8d8d;text-align:left;white-space:nowrap;">10</div><div style="left:405.9px;top:274.54px;width:1000px;font:normal 11px/1 'Liberation Serif', serif;color:#6a8790;text-align:left;white-space:nowrap;">T</div><div style="left:389.5px;top:313px;width:165.5px;height:2px;background:#c2c2c2;"></div><div style="left:391.5px;top:297.62px;width:1000px;font:normal 11px/1 'Liberation Serif', serif;color:#8d8d8d;text-align:left;white-space:nowrap;">11</div><div style="left:405.9px;top:297.62px;width:1000px;font:normal 11px/1 'Liberation Serif', serif;color:#6a8790;text-align:left;white-space:nowrap;">F</div><div style="left:389.5px;top:316.08px;width:165.5px;height:20.6px;background:#f1eff0;"></div><div style="left:389.5px;top:336px;width:165.5px;height:2px;background:#c2c2c2;"></div><div style="left:391.5px;top:320.7px;width:1000px;font:normal 11px/1 'Liberation Serif', serif;color:#8d8d8d;text-align:left;white-space:nowrap;">12</div><div style="left:405.9px;top:320.7px;width:1000px;font:normal 11px/1 'Liberation Serif', serif;color:#7c7c7c;text-align:left;white-space:nowrap;">Sa</div><div style="left:389.5px;top:339.16px;width:165.5px;height:20.6px;background:#f1eff0;"></div><div style="left:389.5px;top:360px;width:165.5px;height:2px;background:#c2c2c2;"></div><div style="left:391.5px;top:343.78px;width:1000px;font:normal 11px/1 'Liberation Serif', serif;color:#8d8d8d;text-align:left;white-space:nowrap;">13</div><div style="left:405.9px;top:343.78px;width:1000px;font:normal 11px/1 'Liberation Serif', serif;color:#7c7c7c;text-align:left;white-space:nowrap;">Su</div><div style="left:389.5px;top:383px;width:165.5px;height:2px;background:#c2c2c2;"></div><div style="left:391.5px;top:366.86px;width:1000px;font:normal 11px/1 'Liberation Serif', serif;color:#8d8d8d;text-align:left;white-space:nowrap;">14</div><div style="left:405.9px;top:366.86px;width:1000px;font:normal 11px/1 'Liberation Serif', serif;color:#6a8790;text-align:left;white-space:nowrap;">M</div><div style="left:389.5px;top:406px;width:165.5px;height:2px;background:#c2c2c2;"></div><div style="left:391.5px;top:389.94px;width:1000px;font:normal 11px/1 'Liberation Serif', serif;color:#8d8d8d;text-align:left;white-space:nowrap;">15</div><div style="left:405.9px;top:389.94px;width:1000px;font:normal 11px/1 'Liberation Serif', serif;color:#6a8790;text-align:left;white-space:nowrap;">T</div><div style="left:389.5px;top:429px;width:165.5px;height:2px;background:#c2c2c2;"></div><div style="left:391.5px;top:413.02px;width:1000px;font:normal 11px/1 'Liberation Serif', serif;color:#8d8d8d;text-align:left;white-space:nowrap;">16</div><div style="left:405.9px;top:413.02px;width:1000px;font:normal 11px/1 'Liberation Serif', serif;color:#6a8790;text-align:left;white-space:nowrap;">W</div><div style="left:389.5px;top:452px;width:165.5px;height:2px;background:#c2c2c2;"></div><div style="left:391.5px;top:436.1px;width:1000px;font:normal 11px/1 'Liberation Serif', serif;color:#8d8d8d;text-align:left;white-space:nowrap;">17</div><div style="left:405.9px;top:436.1px;width:1000px;font:normal 11px/1 'Liberation Serif', serif;color:#6a8790;text-align:left;white-space:nowrap;">T</div><div style="left:389.5px;top:475px;width:165.5px;height:2px;background:#c2c2c2;"></div><div style="left:391.5px;top:459.18px;width:1000px;font:normal 11px/1 'Liberation Serif', serif;color:#8d8d8d;text-align:left;white-space:nowrap;">18</div><div style="left:405.9px;top:459.18px;width:1000px;font:normal 11px/1 'Liberation Serif', serif;color:#6a8790;text-align:left;white-space:nowrap;">F</div><div style="left:389.5px;top:477.64px;width:165.5px;height:20.6px;background:#f1eff0;"></div><div style="left:389.5px;top:498px;width:165.5px;height:2px;background:#c2c2c2;"></div><div style="left:391.5px;top:482.26px;width:1000px;font:normal 11px/1 'Liberation Serif', serif;color:#8d8d8d;text-align:left;white-space:nowrap;">19</div><div style="left:405.9px;top:482.26px;width:1000px;font:normal 11px/1 'Liberation Serif', serif;color:#7c7c7c;text-align:left;white-space:nowrap;">Sa</div><div style="left:389.5px;top:500.72px;width:165.5px;height:20.6px;background:#f1eff0;"></div><div style="left:389.5px;top:521px;width:165.5px;height:2px;background:#c2c2c2;"></div><div style="left:391.5px;top:505.34px;width:1000px;font:normal 11px/1 'Liberation Serif', serif;color:#8d8d8d;text-align:left;white-space:nowrap;">20</div><div style="left:405.9px;top:505.34px;width:1000px;font:normal 11px/1 'Liberation Serif', serif;color:#7c7c7c;text-align:left;white-space:nowrap;">Su</div><div style="left:389.5px;top:544px;width:165.5px;height:2px;background:#c2c2c2;"></div><div style="left:391.5px;top:528.42px;width:1000px;font:normal 11px/1 'Liberation Serif', serif;color:#8d8d8d;text-align:left;white-space:nowrap;">21</div><div style="left:405.9px;top:528.42px;width:1000px;font:normal 11px/1 'Liberation Serif', serif;color:#6a8790;text-align:left;white-space:nowrap;">M</div><div style="left:389.5px;top:567px;width:165.5px;height:2px;background:#c2c2c2;"></div><div style="left:391.5px;top:551.5px;width:1000px;font:normal 11px/1 'Liberation Serif', serif;color:#8d8d8d;text-align:left;white-space:nowrap;">22</div><div style="left:405.9px;top:551.5px;width:1000px;font:normal 11px/1 'Liberation Serif', serif;color:#6a8790;text-align:left;white-space:nowrap;">T</div><div style="left:389.5px;top:590px;width:165.5px;height:2px;background:#c2c2c2;"></div><div style="left:391.5px;top:574.58px;width:1000px;font:normal 11px/1 'Liberation Serif', serif;color:#8d8d8d;text-align:left;white-space:nowrap;">23</div><div style="left:405.9px;top:574.58px;width:1000px;font:normal 11px/1 'Liberation Serif', serif;color:#6a8790;text-align:left;white-space:nowrap;">W</div><div style="left:389.5px;top:613px;width:165.5px;height:2px;background:#c2c2c2;"></div><div style="left:391.5px;top:597.66px;width:1000px;font:normal 11px/1 'Liberation Serif', serif;color:#8d8d8d;text-align:left;white-space:nowrap;">24</div><div style="left:405.9px;top:597.66px;width:1000px;font:normal 11px/1 'Liberation Serif', serif;color:#6a8790;text-align:left;white-space:nowrap;">T</div><div style="left:389.5px;top:637px;width:165.5px;height:2px;background:#c2c2c2;"></div><div style="left:391.5px;top:620.74px;width:1000px;font:normal 11px/1 'Liberation Serif', serif;color:#8d8d8d;text-align:left;white-space:nowrap;">25</div><div style="left:405.9px;top:620.74px;width:1000px;font:normal 11px/1 'Liberation Serif', serif;color:#6a8790;text-align:left;white-space:nowrap;">F</div><div style="left:389.5px;top:639.2px;width:165.5px;height:20.6px;background:#f1eff0;"></div><div style="left:389.5px;top:660px;width:165.5px;height:2px;background:#c2c2c2;"></div><div style="left:391.5px;top:643.82px;width:1000px;font:normal 11px/1 'Liberation Serif', serif;color:#8d8d8d;text-align:left;white-space:nowrap;">26</div><div style="left:405.9px;top:643.82px;width:1000px;font:normal 11px/1 'Liberation Serif', serif;color:#7c7c7c;text-align:left;white-space:nowrap;">Sa</div><div style="left:389.5px;top:662.28px;width:165.5px;height:20.6px;background:#f1eff0;"></div><div style="left:389.5px;top:683px;width:165.5px;height:2px;background:#c2c2c2;"></div><div style="left:391.5px;top:666.9px;width:1000px;font:normal 11px/1 'Liberation Serif', serif;color:#8d8d8d;text-align:left;white-space:nowrap;">27</div><div style="left:405.9px;top:666.9px;width:1000px;font:normal 11px/1 'Liberation Serif', serif;color:#7c7c7c;text-align:left;white-space:nowrap;">Su</div><div style="left:389.5px;top:706px;width:165.5px;height:2px;background:#c2c2c2;"></div><div style="left:391.5px;top:689.98px;width:1000px;font:normal 11px/1 'Liberation Serif', serif;color:#8d8d8d;text-align:left;white-space:nowrap;">28</div><div style="left:405.9px;top:689.98px;width:1000px;font:normal 11px/1 'Liberation Serif', serif;color:#6a8790;text-align:left;white-space:nowrap;">M</div><div style="left:389.5px;top:729px;width:165.5px;height:2px;background:#c2c2c2;"></div><div style="left:391.5px;top:713.06px;width:1000px;font:normal 11px/1 'Liberation Serif', serif;color:#8d8d8d;text-align:left;white-space:nowrap;">29</div><div style="left:405.9px;top:713.06px;width:1000px;font:normal 11px/1 'Liberation Serif', serif;color:#6a8790;text-align:left;white-space:nowrap;">T</div><div style="left:389.5px;top:752px;width:165.5px;height:2px;background:#c2c2c2;"></div><div style="left:391.5px;top:736.14px;width:1000px;font:normal 11px/1 'Liberation Serif', serif;color:#8d8d8d;text-align:left;white-space:nowrap;">30</div><div style="left:405.9px;top:736.14px;width:1000px;font:normal 11px/1 'Liberation Serif', serif;color:#6a8790;text-align:left;white-space:nowrap;">W</div><div style="left:389.5px;top:775px;width:165.5px;height:2px;background:#c2c2c2;"></div><div style="left:391.5px;top:759.22px;width:1000px;font:normal 11px/1 'Liberation Serif', serif;color:#8d8d8d;text-align:left;white-space:nowrap;">31</div><div style="left:405.9px;top:759.22px;width:1000px;font:normal 11px/1 'Liberation Serif', serif;color:#6a8790;text-align:left;white-space:nowrap;">T</div><div style="left:43px;top:779px;width:164.7px;height:1.5px;background:#c2c2c2;"></div></div><div class="pg" id="exp" style="left:632px;top:505px;width:603px;height:817px;border-radius:22px 0px 0px 16px;z-index:9;background:#fff"><div style="left:0;top:18px;width:1px;bottom:0;height:auto;background:#e9e9e9"></div><div style="left:46.3px;top:18.56px;width:1000px;font:bold 13px/1 'Liberation Serif', serif;color:#555;text-align:left;white-space:nowrap;letter-spacing:0.3px;transform:scaleX(0.99);transform-origin:left;-webkit-text-stroke:0.25px #555;">2026 EXPENSES</div><div style="left:46.3px;top:38px;width:164.7px;height:21.8px;background:#448dab;border-radius:3px;"></div><div style="left:-371.35px;top:43.24px;width:1000px;font:bold 12.4px/1 'Liberation Serif', serif;color:#fff;text-align:center;white-space:nowrap;transform:scaleX(1.06);transform-origin:center;-webkit-text-stroke:0.25px #fff;">January</div><div style="left:46.3px;top:62.9px;width:164.7px;height:22.5px;background:#fcf9fa;"></div><div style="left:46.3px;top:84px;width:164.7px;height:2px;background:#c9c9c9;"></div><div style="left:46.3px;top:87.65px;width:164.7px;height:22.5px;background:#fcf9fa;"></div><div style="left:46.3px;top:109px;width:164.7px;height:2px;background:#c9c9c9;"></div><div style="left:46.3px;top:112.4px;width:164.7px;height:22.5px;background:#fcf9fa;"></div><div style="left:46.3px;top:134px;width:164.7px;height:2px;background:#c9c9c9;"></div><div style="left:46.3px;top:137.15px;width:164.7px;height:22.5px;background:#fcf9fa;"></div><div style="left:46.3px;top:159px;width:164.7px;height:2px;background:#c9c9c9;"></div><div style="left:46.3px;top:161.9px;width:164.7px;height:22.5px;background:#fcf9fa;"></div><div style="left:46.3px;top:183px;width:164.7px;height:2px;background:#c9c9c9;"></div><div style="left:46.3px;top:186.65px;width:164.7px;height:22.5px;background:#fcf9fa;"></div><div style="left:46.3px;top:208px;width:164.7px;height:2px;background:#c9c9c9;"></div><div style="left:46.3px;top:211.4px;width:164.7px;height:22.5px;background:#fcf9fa;"></div><div style="left:46.3px;top:233px;width:164.7px;height:2px;background:#c9c9c9;"></div><div style="left:46.3px;top:236.15px;width:164.7px;height:22.5px;background:#fcf9fa;"></div><div style="left:46.3px;top:258px;width:164.7px;height:2px;background:#c9c9c9;"></div><div style="left:46.3px;top:260.9px;width:164.7px;height:22.5px;background:#fcf9fa;"></div><div style="left:46.3px;top:282px;width:164.7px;height:2px;background:#c9c9c9;"></div><div style="left:46.3px;top:285.65px;width:164.7px;height:22.5px;background:#fcf9fa;"></div><div style="left:46.3px;top:307px;width:164.7px;height:2px;background:#c9c9c9;"></div><div style="left:46.3px;top:310.4px;width:164.7px;height:22.5px;background:#fcf9fa;"></div><div style="left:46.3px;top:332px;width:164.7px;height:2px;background:#c9c9c9;"></div><div style="left:46.3px;top:335.15px;width:164.7px;height:22.5px;background:#fcf9fa;"></div><div style="left:46.3px;top:357px;width:164.7px;height:2px;background:#c9c9c9;"></div><div style="left:46.3px;top:359.9px;width:164.7px;height:22.5px;background:#fcf9fa;"></div><div style="left:46.3px;top:381px;width:164.7px;height:2px;background:#c9c9c9;"></div><div style="left:46.3px;top:384.65px;width:164.7px;height:22.5px;background:#fcf9fa;"></div><div style="left:46.3px;top:406px;width:164.7px;height:2px;background:#c9c9c9;"></div><div style="left:46.3px;top:409.4px;width:164.7px;height:22.5px;background:#fcf9fa;"></div><div style="left:46.3px;top:431px;width:164.7px;height:2px;background:#c9c9c9;"></div><div style="left:46.3px;top:434.15px;width:164.7px;height:22.5px;background:#fcf9fa;"></div><div style="left:46.3px;top:456px;width:164.7px;height:2px;background:#c9c9c9;"></div><div style="left:46.3px;top:458.9px;width:164.7px;height:22.5px;background:#fcf9fa;"></div><div style="left:46.3px;top:480px;width:164.7px;height:2px;background:#c9c9c9;"></div><div style="left:46.3px;top:483.65px;width:164.7px;height:22.5px;background:#fcf9fa;"></div><div style="left:46.3px;top:505px;width:164.7px;height:2px;background:#c9c9c9;"></div><div style="left:46.3px;top:508.4px;width:164.7px;height:22.5px;background:#fcf9fa;"></div><div style="left:46.3px;top:530px;width:164.7px;height:2px;background:#c9c9c9;"></div><div style="left:46.3px;top:533.15px;width:164.7px;height:22.5px;background:#fcf9fa;"></div><div style="left:46.3px;top:555px;width:164.7px;height:2px;background:#c9c9c9;"></div><div style="left:46.3px;top:557.9px;width:164.7px;height:22.5px;background:#fcf9fa;"></div><div style="left:46.3px;top:579px;width:164.7px;height:2px;background:#c9c9c9;"></div><div style="left:46.3px;top:582.65px;width:164.7px;height:22.5px;background:#fcf9fa;"></div><div style="left:46.3px;top:604px;width:164.7px;height:2px;background:#c9c9c9;"></div><div style="left:46.3px;top:607.4px;width:164.7px;height:22.5px;background:#fcf9fa;"></div><div style="left:46.3px;top:629px;width:164.7px;height:2px;background:#c9c9c9;"></div><div style="left:46.3px;top:632.15px;width:164.7px;height:22.5px;background:#fcf9fa;"></div><div style="left:46.3px;top:654px;width:164.7px;height:2px;background:#c9c9c9;"></div><div style="left:46.3px;top:656.9px;width:164.7px;height:22.5px;background:#fcf9fa;"></div><div style="left:46.3px;top:678px;width:164.7px;height:2px;background:#c9c9c9;"></div><div style="left:46.3px;top:681.65px;width:164.7px;height:22.5px;background:#fcf9fa;"></div><div style="left:46.3px;top:703px;width:164.7px;height:2px;background:#c9c9c9;"></div><div style="left:46.3px;top:706.4px;width:164.7px;height:22.5px;background:#fcf9fa;"></div><div style="left:46.3px;top:728px;width:164.7px;height:2px;background:#c9c9c9;"></div><div style="left:46.3px;top:731.15px;width:164.7px;height:22.5px;background:#fcf9fa;"></div><div style="left:46.3px;top:753px;width:164.7px;height:2px;background:#c9c9c9;"></div><div style="left:46.3px;top:755.9px;width:164.7px;height:22.5px;background:#fcf9fa;"></div><div style="left:46.3px;top:777px;width:164.7px;height:2px;background:#c9c9c9;"></div><div style="left:219.3px;top:38px;width:165.2px;height:21.8px;background:#448dab;border-radius:3px;"></div><div style="left:-198.1px;top:43.24px;width:1000px;font:bold 12.4px/1 'Liberation Serif', serif;color:#fff;text-align:center;white-space:nowrap;transform:scaleX(1.02);transform-origin:center;-webkit-text-stroke:0.25px #fff;">February</div><div style="left:219.3px;top:62.9px;width:165.2px;height:22.5px;background:#fcf9fa;"></div><div style="left:219.3px;top:84px;width:165.2px;height:2px;background:#c9c9c9;"></div><div style="left:219.3px;top:87.65px;width:165.2px;height:22.5px;background:#fcf9fa;"></div><div style="left:219.3px;top:109px;width:165.2px;height:2px;background:#c9c9c9;"></div><div style="left:219.3px;top:112.4px;width:165.2px;height:22.5px;background:#fcf9fa;"></div><div style="left:219.3px;top:134px;width:165.2px;height:2px;background:#c9c9c9;"></div><div style="left:219.3px;top:137.15px;width:165.2px;height:22.5px;background:#fcf9fa;"></div><div style="left:219.3px;top:159px;width:165.2px;height:2px;background:#c9c9c9;"></div><div style="left:219.3px;top:161.9px;width:165.2px;height:22.5px;background:#fcf9fa;"></div><div style="left:219.3px;top:183px;width:165.2px;height:2px;background:#c9c9c9;"></div><div style="left:219.3px;top:186.65px;width:165.2px;height:22.5px;background:#fcf9fa;"></div><div style="left:219.3px;top:208px;width:165.2px;height:2px;background:#c9c9c9;"></div><div style="left:219.3px;top:211.4px;width:165.2px;height:22.5px;background:#fcf9fa;"></div><div style="left:219.3px;top:233px;width:165.2px;height:2px;background:#c9c9c9;"></div><div style="left:219.3px;top:236.15px;width:165.2px;height:22.5px;background:#fcf9fa;"></div><div style="left:219.3px;top:258px;width:165.2px;height:2px;background:#c9c9c9;"></div><div style="left:219.3px;top:260.9px;width:165.2px;height:22.5px;background:#fcf9fa;"></div><div style="left:219.3px;top:282px;width:165.2px;height:2px;background:#c9c9c9;"></div><div style="left:219.3px;top:285.65px;width:165.2px;height:22.5px;background:#fcf9fa;"></div><div style="left:219.3px;top:307px;width:165.2px;height:2px;background:#c9c9c9;"></div><div style="left:219.3px;top:310.4px;width:165.2px;height:22.5px;background:#fcf9fa;"></div><div style="left:219.3px;top:332px;width:165.2px;height:2px;background:#c9c9c9;"></div><div style="left:219.3px;top:335.15px;width:165.2px;height:22.5px;background:#fcf9fa;"></div><div style="left:219.3px;top:357px;width:165.2px;height:2px;background:#c9c9c9;"></div><div style="left:219.3px;top:359.9px;width:165.2px;height:22.5px;background:#fcf9fa;"></div><div style="left:219.3px;top:381px;width:165.2px;height:2px;background:#c9c9c9;"></div><div style="left:219.3px;top:384.65px;width:165.2px;height:22.5px;background:#fcf9fa;"></div><div style="left:219.3px;top:406px;width:165.2px;height:2px;background:#c9c9c9;"></div><div style="left:219.3px;top:409.4px;width:165.2px;height:22.5px;background:#fcf9fa;"></div><div style="left:219.3px;top:431px;width:165.2px;height:2px;background:#c9c9c9;"></div><div style="left:219.3px;top:434.15px;width:165.2px;height:22.5px;background:#fcf9fa;"></div><div style="left:219.3px;top:456px;width:165.2px;height:2px;background:#c9c9c9;"></div><div style="left:219.3px;top:458.9px;width:165.2px;height:22.5px;background:#fcf9fa;"></div><div style="left:219.3px;top:480px;width:165.2px;height:2px;background:#c9c9c9;"></div><div style="left:219.3px;top:483.65px;width:165.2px;height:22.5px;background:#fcf9fa;"></div><div style="left:219.3px;top:505px;width:165.2px;height:2px;background:#c9c9c9;"></div><div style="left:219.3px;top:508.4px;width:165.2px;height:22.5px;background:#fcf9fa;"></div><div style="left:219.3px;top:530px;width:165.2px;height:2px;background:#c9c9c9;"></div><div style="left:219.3px;top:533.15px;width:165.2px;height:22.5px;background:#fcf9fa;"></div><div style="left:219.3px;top:555px;width:165.2px;height:2px;background:#c9c9c9;"></div><div style="left:219.3px;top:557.9px;width:165.2px;height:22.5px;background:#fcf9fa;"></div><div style="left:219.3px;top:579px;width:165.2px;height:2px;background:#c9c9c9;"></div><div style="left:219.3px;top:582.65px;width:165.2px;height:22.5px;background:#fcf9fa;"></div><div style="left:219.3px;top:604px;width:165.2px;height:2px;background:#c9c9c9;"></div><div style="left:219.3px;top:607.4px;width:165.2px;height:22.5px;background:#fcf9fa;"></div><div style="left:219.3px;top:629px;width:165.2px;height:2px;background:#c9c9c9;"></div><div style="left:219.3px;top:632.15px;width:165.2px;height:22.5px;background:#fcf9fa;"></div><div style="left:219.3px;top:654px;width:165.2px;height:2px;background:#c9c9c9;"></div><div style="left:219.3px;top:656.9px;width:165.2px;height:22.5px;background:#fcf9fa;"></div><div style="left:219.3px;top:678px;width:165.2px;height:2px;background:#c9c9c9;"></div><div style="left:219.3px;top:681.65px;width:165.2px;height:22.5px;background:#fcf9fa;"></div><div style="left:219.3px;top:703px;width:165.2px;height:2px;background:#c9c9c9;"></div><div style="left:219.3px;top:706.4px;width:165.2px;height:22.5px;background:#fcf9fa;"></div><div style="left:219.3px;top:728px;width:165.2px;height:2px;background:#c9c9c9;"></div><div style="left:219.3px;top:731.15px;width:165.2px;height:22.5px;background:#fcf9fa;"></div><div style="left:219.3px;top:753px;width:165.2px;height:2px;background:#c9c9c9;"></div><div style="left:219.3px;top:755.9px;width:165.2px;height:22.5px;background:#fcf9fa;"></div><div style="left:219.3px;top:777px;width:165.2px;height:2px;background:#c9c9c9;"></div><div style="left:392.7px;top:38px;width:164.9px;height:21.8px;background:#448dab;border-radius:3px;"></div><div style="left:-24.85px;top:43.24px;width:1000px;font:bold 12.4px/1 'Liberation Serif', serif;color:#fff;text-align:center;white-space:nowrap;transform:scaleX(1);transform-origin:center;-webkit-text-stroke:0.25px #fff;">March</div><div style="left:392.7px;top:62.9px;width:164.9px;height:22.5px;background:#fcf9fa;"></div><div style="left:392.7px;top:84px;width:164.9px;height:2px;background:#c9c9c9;"></div><div style="left:392.7px;top:87.65px;width:164.9px;height:22.5px;background:#fcf9fa;"></div><div style="left:392.7px;top:109px;width:164.9px;height:2px;background:#c9c9c9;"></div><div style="left:392.7px;top:112.4px;width:164.9px;height:22.5px;background:#fcf9fa;"></div><div style="left:392.7px;top:134px;width:164.9px;height:2px;background:#c9c9c9;"></div><div style="left:392.7px;top:137.15px;width:164.9px;height:22.5px;background:#fcf9fa;"></div><div style="left:392.7px;top:159px;width:164.9px;height:2px;background:#c9c9c9;"></div><div style="left:392.7px;top:161.9px;width:164.9px;height:22.5px;background:#fcf9fa;"></div><div style="left:392.7px;top:183px;width:164.9px;height:2px;background:#c9c9c9;"></div><div style="left:392.7px;top:186.65px;width:164.9px;height:22.5px;background:#fcf9fa;"></div><div style="left:392.7px;top:208px;width:164.9px;height:2px;background:#c9c9c9;"></div><div style="left:392.7px;top:211.4px;width:164.9px;height:22.5px;background:#fcf9fa;"></div><div style="left:392.7px;top:233px;width:164.9px;height:2px;background:#c9c9c9;"></div><div style="left:392.7px;top:236.15px;width:164.9px;height:22.5px;background:#fcf9fa;"></div><div style="left:392.7px;top:258px;width:164.9px;height:2px;background:#c9c9c9;"></div><div style="left:392.7px;top:260.9px;width:164.9px;height:22.5px;background:#fcf9fa;"></div><div style="left:392.7px;top:282px;width:164.9px;height:2px;background:#c9c9c9;"></div><div style="left:392.7px;top:285.65px;width:164.9px;height:22.5px;background:#fcf9fa;"></div><div style="left:392.7px;top:307px;width:164.9px;height:2px;background:#c9c9c9;"></div><div style="left:392.7px;top:310.4px;width:164.9px;height:22.5px;background:#fcf9fa;"></div><div style="left:392.7px;top:332px;width:164.9px;height:2px;background:#c9c9c9;"></div><div style="left:392.7px;top:335.15px;width:164.9px;height:22.5px;background:#fcf9fa;"></div><div style="left:392.7px;top:357px;width:164.9px;height:2px;background:#c9c9c9;"></div><div style="left:392.7px;top:359.9px;width:164.9px;height:22.5px;background:#fcf9fa;"></div><div style="left:392.7px;top:381px;width:164.9px;height:2px;background:#c9c9c9;"></div><div style="left:392.7px;top:384.65px;width:164.9px;height:22.5px;background:#fcf9fa;"></div><div style="left:392.7px;top:406px;width:164.9px;height:2px;background:#c9c9c9;"></div><div style="left:392.7px;top:409.4px;width:164.9px;height:22.5px;background:#fcf9fa;"></div><div style="left:392.7px;top:431px;width:164.9px;height:2px;background:#c9c9c9;"></div><div style="left:392.7px;top:434.15px;width:164.9px;height:22.5px;background:#fcf9fa;"></div><div style="left:392.7px;top:456px;width:164.9px;height:2px;background:#c9c9c9;"></div><div style="left:392.7px;top:458.9px;width:164.9px;height:22.5px;background:#fcf9fa;"></div><div style="left:392.7px;top:480px;width:164.9px;height:2px;background:#c9c9c9;"></div><div style="left:392.7px;top:483.65px;width:164.9px;height:22.5px;background:#fcf9fa;"></div><div style="left:392.7px;top:505px;width:164.9px;height:2px;background:#c9c9c9;"></div><div style="left:392.7px;top:508.4px;width:164.9px;height:22.5px;background:#fcf9fa;"></div><div style="left:392.7px;top:530px;width:164.9px;height:2px;background:#c9c9c9;"></div><div style="left:392.7px;top:533.15px;width:164.9px;height:22.5px;background:#fcf9fa;"></div><div style="left:392.7px;top:555px;width:164.9px;height:2px;background:#c9c9c9;"></div><div style="left:392.7px;top:557.9px;width:164.9px;height:22.5px;background:#fcf9fa;"></div><div style="left:392.7px;top:579px;width:164.9px;height:2px;background:#c9c9c9;"></div><div style="left:392.7px;top:582.65px;width:164.9px;height:22.5px;background:#fcf9fa;"></div><div style="left:392.7px;top:604px;width:164.9px;height:2px;background:#c9c9c9;"></div><div style="left:392.7px;top:607.4px;width:164.9px;height:22.5px;background:#fcf9fa;"></div><div style="left:392.7px;top:629px;width:164.9px;height:2px;background:#c9c9c9;"></div><div style="left:392.7px;top:632.15px;width:164.9px;height:22.5px;background:#fcf9fa;"></div><div style="left:392.7px;top:654px;width:164.9px;height:2px;background:#c9c9c9;"></div><div style="left:392.7px;top:656.9px;width:164.9px;height:22.5px;background:#fcf9fa;"></div><div style="left:392.7px;top:678px;width:164.9px;height:2px;background:#c9c9c9;"></div><div style="left:392.7px;top:681.65px;width:164.9px;height:22.5px;background:#fcf9fa;"></div><div style="left:392.7px;top:703px;width:164.9px;height:2px;background:#c9c9c9;"></div><div style="left:392.7px;top:706.4px;width:164.9px;height:22.5px;background:#fcf9fa;"></div><div style="left:392.7px;top:728px;width:164.9px;height:2px;background:#c9c9c9;"></div><div style="left:392.7px;top:731.15px;width:164.9px;height:22.5px;background:#fcf9fa;"></div><div style="left:392.7px;top:753px;width:164.9px;height:2px;background:#c9c9c9;"></div><div style="left:392.7px;top:755.9px;width:164.9px;height:22.5px;background:#fcf9fa;"></div><div style="left:392.7px;top:777px;width:164.9px;height:2px;background:#c9c9c9;"></div><svg style="position:absolute;left:0px;top:763.5px;overflow:visible" width="53.5" height="53.5"><path d="M 0 4 A 49.5 49.5 0 0 1 49.5 53.5" fill="none" stroke="#0a0a0a" stroke-width="4.1" stroke-linecap="round" stroke-dasharray="0 9.7"/></svg></div><div class="pg" id="bd" style="left:719px;top:566px;width:603px;height:816px;border-radius:18px 0px 0px 16px;z-index:10;background:#fff"><div style="left:0;top:18px;width:1px;bottom:0;height:auto;background:#e9e9e9"></div><div style="left:46.1px;top:18.46px;width:1000px;font:bold 13px/1 'Liberation Serif', serif;color:#555;text-align:left;white-space:nowrap;letter-spacing:0.5px;transform:scaleX(0.93);transform-origin:left;-webkit-text-stroke:0.25px #555;">BIRTHDAY</div><div style="left:123px;top:37px;width:435.2px;height:113.7px;border:1px solid #7fa2ae;border-left:none;border-radius:0 7px 7px 0;box-sizing:border-box;"></div><div style="left:129px;top:59.2px;width:148px;height:1px;border-top:1px dotted #999;"></div><div style="left:282px;top:59.2px;width:269px;height:1px;border-top:1px dotted #999;"></div><div style="left:46px;top:37.7px;width:77.5px;height:113px;background:#448dab;border-radius:7px 0 0 7px;"></div><div style="left:-416px;top:88.11px;width:1000px;font:bold 11.6px/1 'Liberation Serif', serif;color:#fff;text-align:center;white-space:nowrap;transform:scaleX(1.13);transform-origin:center;-webkit-text-stroke:0.25px #fff;">January</div><div style="left:123px;top:162.5px;width:435.2px;height:113.7px;border:1px solid #7fa2ae;border-left:none;border-radius:0 7px 7px 0;box-sizing:border-box;"></div><div style="left:129px;top:184.7px;width:148px;height:1px;border-top:1px dotted #999;"></div><div style="left:282px;top:184.7px;width:269px;height:1px;border-top:1px dotted #999;"></div><div style="left:46px;top:163.2px;width:77.5px;height:113px;background:#448dab;border-radius:7px 0 0 7px;"></div><div style="left:-416px;top:213.61px;width:1000px;font:bold 11.6px/1 'Liberation Serif', serif;color:#fff;text-align:center;white-space:nowrap;transform:scaleX(1.06);transform-origin:center;-webkit-text-stroke:0.25px #fff;">February</div><div style="left:123px;top:288px;width:435.2px;height:113.7px;border:1px solid #7fa2ae;border-left:none;border-radius:0 7px 7px 0;box-sizing:border-box;"></div><div style="left:129px;top:310.2px;width:148px;height:1px;border-top:1px dotted #999;"></div><div style="left:282px;top:310.2px;width:269px;height:1px;border-top:1px dotted #999;"></div><div style="left:46px;top:288.7px;width:77.5px;height:113px;background:#448dab;border-radius:7px 0 0 7px;"></div><div style="left:-416px;top:339.11px;width:1000px;font:bold 11.6px/1 'Liberation Serif', serif;color:#fff;text-align:center;white-space:nowrap;transform:scaleX(1.07);transform-origin:center;-webkit-text-stroke:0.25px #fff;">March</div><div style="left:123px;top:413.5px;width:435.2px;height:113.7px;border:1px solid #7fa2ae;border-left:none;border-radius:0 7px 7px 0;box-sizing:border-box;"></div><div style="left:129px;top:435.7px;width:148px;height:1px;border-top:1px dotted #999;"></div><div style="left:282px;top:435.7px;width:269px;height:1px;border-top:1px dotted #999;"></div><div style="left:46px;top:414.2px;width:77.5px;height:113px;background:#448dab;border-radius:7px 0 0 7px;"></div><div style="left:-416px;top:464.61px;width:1000px;font:bold 11.6px/1 'Liberation Serif', serif;color:#fff;text-align:center;white-space:nowrap;transform:scaleX(1.07);transform-origin:center;-webkit-text-stroke:0.25px #fff;">April</div><div style="left:123px;top:539px;width:435.2px;height:113.7px;border:1px solid #7fa2ae;border-left:none;border-radius:0 7px 7px 0;box-sizing:border-box;"></div><div style="left:129px;top:561.2px;width:148px;height:1px;border-top:1px dotted #999;"></div><div style="left:282px;top:561.2px;width:269px;height:1px;border-top:1px dotted #999;"></div><div style="left:46px;top:539.7px;width:77.5px;height:113px;background:#448dab;border-radius:7px 0 0 7px;"></div><div style="left:-416px;top:590.11px;width:1000px;font:bold 11.6px/1 'Liberation Serif', serif;color:#fff;text-align:center;white-space:nowrap;transform:scaleX(1.03);transform-origin:center;-webkit-text-stroke:0.25px #fff;">May</div><div style="left:123px;top:664.5px;width:435.2px;height:113.7px;border:1px solid #7fa2ae;border-left:none;border-radius:0 7px 7px 0;box-sizing:border-box;"></div><div style="left:129px;top:686.7px;width:148px;height:1px;border-top:1px dotted #999;"></div><div style="left:282px;top:686.7px;width:269px;height:1px;border-top:1px dotted #999;"></div><div style="left:46px;top:665.2px;width:77.5px;height:113px;background:#448dab;border-radius:7px 0 0 7px;"></div><div style="left:-416px;top:715.61px;width:1000px;font:bold 11.6px/1 'Liberation Serif', serif;color:#fff;text-align:center;white-space:nowrap;transform:scaleX(1.14);transform-origin:center;-webkit-text-stroke:0.25px #fff;">June</div><svg style="position:absolute;left:0.3px;top:762.9px;overflow:visible" width="53.5" height="53.5"><path d="M 0 4 A 49.5 49.5 0 0 1 49.5 53.5" fill="none" stroke="#0a0a0a" stroke-width="4.1" stroke-linecap="round" stroke-dasharray="0 9.7"/></svg></div><div class="pg" id="tr" style="left:829px;top:628px;width:599px;height:818px;border-radius:0px 18px 18px 0px;z-index:11;background:#fff"><div style="left:0;top:18px;width:1px;bottom:0;height:auto;background:#e9e9e9"></div><div style="left:-446.3px;top:18.31px;width:1000px;font:bold 13.3px/1 'Liberation Serif', serif;color:#555;text-align:right;white-space:nowrap;letter-spacing:0.5px;transform:scaleX(0.89);transform-origin:right;-webkit-text-stroke:0.25px #555;">TRAVEL PLANNER</div><div style="left:42.7px;top:37.7px;width:113.8px;height:22.2px;background:#448dab;border-radius:3px;"></div><div style="left:-401px;top:43.04px;width:1000px;font:bold 12.6px/1 'Liberation Serif', serif;color:#fff;text-align:center;white-space:nowrap;transform:scaleX(1.06);transform-origin:center;-webkit-text-stroke:0.25px #fff;">Date</div><div style="left:164.7px;top:37.7px;width:389px;height:22.2px;background:#448dab;border-radius:3px;"></div><div style="left:-141px;top:43.04px;width:1000px;font:bold 12.6px/1 'Liberation Serif', serif;color:#fff;text-align:center;white-space:nowrap;transform:scaleX(1.06);transform-origin:center;-webkit-text-stroke:0.25px #fff;">Destination / Itinerary</div><div style="left:42.7px;top:62.9px;width:113.8px;height:22.3px;background:#fcfafb;"></div><div style="left:42.7px;top:84px;width:113.8px;height:2px;background:#d2d0d1;"></div><div style="left:164.7px;top:62.9px;width:389px;height:22.3px;background:#fcfafb;"></div><div style="left:164.7px;top:84px;width:389px;height:2px;background:#d2d0d1;"></div><div style="left:42.7px;top:87.67px;width:113.8px;height:22.3px;background:#fcfafb;"></div><div style="left:42.7px;top:109px;width:113.8px;height:2px;background:#d2d0d1;"></div><div style="left:164.7px;top:87.67px;width:389px;height:22.3px;background:#fcfafb;"></div><div style="left:164.7px;top:109px;width:389px;height:2px;background:#d2d0d1;"></div><div style="left:42.7px;top:112.44px;width:113.8px;height:22.3px;background:#fcfafb;"></div><div style="left:42.7px;top:134px;width:113.8px;height:2px;background:#d2d0d1;"></div><div style="left:164.7px;top:112.44px;width:389px;height:22.3px;background:#fcfafb;"></div><div style="left:164.7px;top:134px;width:389px;height:2px;background:#d2d0d1;"></div><div style="left:42.7px;top:137.21px;width:113.8px;height:22.3px;background:#fcfafb;"></div><div style="left:42.7px;top:159px;width:113.8px;height:2px;background:#d2d0d1;"></div><div style="left:164.7px;top:137.21px;width:389px;height:22.3px;background:#fcfafb;"></div><div style="left:164.7px;top:159px;width:389px;height:2px;background:#d2d0d1;"></div><div style="left:42.7px;top:161.98px;width:113.8px;height:22.3px;background:#fcfafb;"></div><div style="left:42.7px;top:183px;width:113.8px;height:2px;background:#d2d0d1;"></div><div style="left:164.7px;top:161.98px;width:389px;height:22.3px;background:#fcfafb;"></div><div style="left:164.7px;top:183px;width:389px;height:2px;background:#d2d0d1;"></div><div style="left:42.7px;top:186.75px;width:113.8px;height:22.3px;background:#fcfafb;"></div><div style="left:42.7px;top:208px;width:113.8px;height:2px;background:#d2d0d1;"></div><div style="left:164.7px;top:186.75px;width:389px;height:22.3px;background:#fcfafb;"></div><div style="left:164.7px;top:208px;width:389px;height:2px;background:#d2d0d1;"></div><div style="left:42.7px;top:211.52px;width:113.8px;height:22.3px;background:#fcfafb;"></div><div style="left:42.7px;top:233px;width:113.8px;height:2px;background:#d2d0d1;"></div><div style="left:164.7px;top:211.52px;width:389px;height:22.3px;background:#fcfafb;"></div><div style="left:164.7px;top:233px;width:389px;height:2px;background:#d2d0d1;"></div><div style="left:42.7px;top:236.29px;width:113.8px;height:22.3px;background:#fcfafb;"></div><div style="left:42.7px;top:258px;width:113.8px;height:2px;background:#d2d0d1;"></div><div style="left:164.7px;top:236.29px;width:389px;height:22.3px;background:#fcfafb;"></div><div style="left:164.7px;top:258px;width:389px;height:2px;background:#d2d0d1;"></div><div style="left:42.7px;top:261.06px;width:113.8px;height:22.3px;background:#fcfafb;"></div><div style="left:42.7px;top:282px;width:113.8px;height:2px;background:#d2d0d1;"></div><div style="left:164.7px;top:261.06px;width:389px;height:22.3px;background:#fcfafb;"></div><div style="left:164.7px;top:282px;width:389px;height:2px;background:#d2d0d1;"></div><div style="left:42.7px;top:285.83px;width:113.8px;height:22.3px;background:#fcfafb;"></div><div style="left:42.7px;top:307px;width:113.8px;height:2px;background:#d2d0d1;"></div><div style="left:164.7px;top:285.83px;width:389px;height:22.3px;background:#fcfafb;"></div><div style="left:164.7px;top:307px;width:389px;height:2px;background:#d2d0d1;"></div><div style="left:42.7px;top:310.6px;width:113.8px;height:22.3px;background:#fcfafb;"></div><div style="left:42.7px;top:332px;width:113.8px;height:2px;background:#d2d0d1;"></div><div style="left:164.7px;top:310.6px;width:389px;height:22.3px;background:#fcfafb;"></div><div style="left:164.7px;top:332px;width:389px;height:2px;background:#d2d0d1;"></div><div style="left:42.7px;top:335.37px;width:113.8px;height:22.3px;background:#fcfafb;"></div><div style="left:42.7px;top:357px;width:113.8px;height:2px;background:#d2d0d1;"></div><div style="left:164.7px;top:335.37px;width:389px;height:22.3px;background:#fcfafb;"></div><div style="left:164.7px;top:357px;width:389px;height:2px;background:#d2d0d1;"></div><div style="left:42.7px;top:360.14px;width:113.8px;height:22.3px;background:#fcfafb;"></div><div style="left:42.7px;top:381px;width:113.8px;height:2px;background:#d2d0d1;"></div><div style="left:164.7px;top:360.14px;width:389px;height:22.3px;background:#fcfafb;"></div><div style="left:164.7px;top:381px;width:389px;height:2px;background:#d2d0d1;"></div><div style="left:42.7px;top:384.91px;width:113.8px;height:22.3px;background:#fcfafb;"></div><div style="left:42.7px;top:406px;width:113.8px;height:2px;background:#d2d0d1;"></div><div style="left:164.7px;top:384.91px;width:389px;height:22.3px;background:#fcfafb;"></div><div style="left:164.7px;top:406px;width:389px;height:2px;background:#d2d0d1;"></div><div style="left:42.7px;top:409.68px;width:113.8px;height:22.3px;background:#fcfafb;"></div><div style="left:42.7px;top:431px;width:113.8px;height:2px;background:#d2d0d1;"></div><div style="left:164.7px;top:409.68px;width:389px;height:22.3px;background:#fcfafb;"></div><div style="left:164.7px;top:431px;width:389px;height:2px;background:#d2d0d1;"></div><div style="left:42.7px;top:434.45px;width:113.8px;height:22.3px;background:#fcfafb;"></div><div style="left:42.7px;top:456px;width:113.8px;height:2px;background:#d2d0d1;"></div><div style="left:164.7px;top:434.45px;width:389px;height:22.3px;background:#fcfafb;"></div><div style="left:164.7px;top:456px;width:389px;height:2px;background:#d2d0d1;"></div><div style="left:42.7px;top:459.22px;width:113.8px;height:22.3px;background:#fcfafb;"></div><div style="left:42.7px;top:481px;width:113.8px;height:2px;background:#d2d0d1;"></div><div style="left:164.7px;top:459.22px;width:389px;height:22.3px;background:#fcfafb;"></div><div style="left:164.7px;top:481px;width:389px;height:2px;background:#d2d0d1;"></div><div style="left:42.7px;top:483.99px;width:113.8px;height:22.3px;background:#fcfafb;"></div><div style="left:42.7px;top:505px;width:113.8px;height:2px;background:#d2d0d1;"></div><div style="left:164.7px;top:483.99px;width:389px;height:22.3px;background:#fcfafb;"></div><div style="left:164.7px;top:505px;width:389px;height:2px;background:#d2d0d1;"></div><div style="left:42.7px;top:508.76px;width:113.8px;height:22.3px;background:#fcfafb;"></div><div style="left:42.7px;top:530px;width:113.8px;height:2px;background:#d2d0d1;"></div><div style="left:164.7px;top:508.76px;width:389px;height:22.3px;background:#fcfafb;"></div><div style="left:164.7px;top:530px;width:389px;height:2px;background:#d2d0d1;"></div><div style="left:42.7px;top:533.53px;width:113.8px;height:22.3px;background:#fcfafb;"></div><div style="left:42.7px;top:555px;width:113.8px;height:2px;background:#d2d0d1;"></div><div style="left:164.7px;top:533.53px;width:389px;height:22.3px;background:#fcfafb;"></div><div style="left:164.7px;top:555px;width:389px;height:2px;background:#d2d0d1;"></div><div style="left:42.7px;top:558.3px;width:113.8px;height:22.3px;background:#fcfafb;"></div><div style="left:42.7px;top:580px;width:113.8px;height:2px;background:#d2d0d1;"></div><div style="left:164.7px;top:558.3px;width:389px;height:22.3px;background:#fcfafb;"></div><div style="left:164.7px;top:580px;width:389px;height:2px;background:#d2d0d1;"></div><div style="left:42.7px;top:583.07px;width:113.8px;height:22.3px;background:#fcfafb;"></div><div style="left:42.7px;top:604px;width:113.8px;height:2px;background:#d2d0d1;"></div><div style="left:164.7px;top:583.07px;width:389px;height:22.3px;background:#fcfafb;"></div><div style="left:164.7px;top:604px;width:389px;height:2px;background:#d2d0d1;"></div><div style="left:42.7px;top:607.84px;width:113.8px;height:22.3px;background:#fcfafb;"></div><div style="left:42.7px;top:629px;width:113.8px;height:2px;background:#d2d0d1;"></div><div style="left:164.7px;top:607.84px;width:389px;height:22.3px;background:#fcfafb;"></div><div style="left:164.7px;top:629px;width:389px;height:2px;background:#d2d0d1;"></div><div style="left:42.7px;top:632.61px;width:113.8px;height:22.3px;background:#fcfafb;"></div><div style="left:42.7px;top:654px;width:113.8px;height:2px;background:#d2d0d1;"></div><div style="left:164.7px;top:632.61px;width:389px;height:22.3px;background:#fcfafb;"></div><div style="left:164.7px;top:654px;width:389px;height:2px;background:#d2d0d1;"></div><div style="left:42.7px;top:657.38px;width:113.8px;height:22.3px;background:#fcfafb;"></div><div style="left:42.7px;top:679px;width:113.8px;height:2px;background:#d2d0d1;"></div><div style="left:164.7px;top:657.38px;width:389px;height:22.3px;background:#fcfafb;"></div><div style="left:164.7px;top:679px;width:389px;height:2px;background:#d2d0d1;"></div><div style="left:42.7px;top:682.15px;width:113.8px;height:22.3px;background:#fcfafb;"></div><div style="left:42.7px;top:703px;width:113.8px;height:2px;background:#d2d0d1;"></div><div style="left:164.7px;top:682.15px;width:389px;height:22.3px;background:#fcfafb;"></div><div style="left:164.7px;top:703px;width:389px;height:2px;background:#d2d0d1;"></div><div style="left:42.7px;top:706.92px;width:113.8px;height:22.3px;background:#fcfafb;"></div><div style="left:42.7px;top:728px;width:113.8px;height:2px;background:#d2d0d1;"></div><div style="left:164.7px;top:706.92px;width:389px;height:22.3px;background:#fcfafb;"></div><div style="left:164.7px;top:728px;width:389px;height:2px;background:#d2d0d1;"></div><div style="left:42.7px;top:731.69px;width:113.8px;height:22.3px;background:#fcfafb;"></div><div style="left:42.7px;top:753px;width:113.8px;height:2px;background:#d2d0d1;"></div><div style="left:164.7px;top:731.69px;width:389px;height:22.3px;background:#fcfafb;"></div><div style="left:164.7px;top:753px;width:389px;height:2px;background:#d2d0d1;"></div><div style="left:42.7px;top:756.46px;width:113.8px;height:22.3px;background:#fcfafb;"></div><div style="left:42.7px;top:778px;width:113.8px;height:2px;background:#d2d0d1;"></div><div style="left:164.7px;top:756.46px;width:389px;height:22.3px;background:#fcfafb;"></div><div style="left:164.7px;top:778px;width:389px;height:2px;background:#d2d0d1;"></div><svg style="position:absolute;left:549px;top:767.5px;overflow:visible" width="50" height="50"><path d="M 0 50 A 50 50 0 0 1 50 0" fill="none" stroke="#0a0a0a" stroke-width="4.1" stroke-linecap="round" stroke-dasharray="0 9.8"/></svg></div><div style="z-index:6;left:285.3px;top:247.92px;width:1000px;font:bold 16px/1 'Liberation Serif', serif;color:#448dab;text-align:left;white-space:nowrap;transform:scaleX(0.81);transform-origin:left;-webkit-text-stroke:0.25px #448dab;">M</div><div style="z-index:6;left:321.5px;top:251.5px;width:2.5px;height:2px;background:#666;border-radius:1px;z-index:6"></div><div style="z-index:6;left:300px;top:254px;width:10px;height:1px;background:#ececec;z-index:6"></div><div style="z-index:6;left:331px;top:254px;width:12px;height:1px;background:#ececec;z-index:6"></div><svg style="position:absolute;left:0;top:0;z-index:20" width="1500" height="1500"><polygon points="692.6,113 716,100 716,126" fill="#fff"/><line x1="716" y1="113" x2="1112" y2="113" stroke="#fff" stroke-width="2.2" stroke-dasharray="6 3"/><polygon points="765.7,171.6 789,158.6 789,184.6" fill="#fff"/><line x1="789" y1="171.6" x2="1140" y2="171.6" stroke="#fff" stroke-width="2.2" stroke-dasharray="6 3"/><polygon points="847.9,227.6 870.6,214.6 870.6,240.6" fill="#fff"/><line x1="870.6" y1="227.6" x2="1215.7" y2="227.6" stroke="#fff" stroke-width="2.2" stroke-dasharray="6 3"/><polygon points="922,285.7 944,272.7 944,298.7" fill="#fff"/><line x1="944" y1="285.7" x2="1336.7" y2="285.7" stroke="#fff" stroke-width="2.2" stroke-dasharray="6 3"/><polygon points="1009,341 1031.7,328 1031.7,354" fill="#fff"/><line x1="1031.7" y1="341" x2="1353" y2="341" stroke="#fff" stroke-width="2.2" stroke-dasharray="6 3"/><polygon points="1090,405 1112,392 1112,418" fill="#fff"/><line x1="1112" y1="405" x2="1407" y2="405" stroke="#fff" stroke-width="2.2" stroke-dasharray="6 3"/><polygon points="519,1224.7 497,1211.7 497,1237.7" fill="#fff"/><line x1="100" y1="1224.7" x2="497" y2="1224.7" stroke="#fff" stroke-width="2.2" stroke-dasharray="6 3"/><polygon points="613.3,1290.7 590.5,1277.7 590.5,1303.7" fill="#fff"/><line x1="193.8" y1="1290.7" x2="590.5" y2="1290.7" stroke="#fff" stroke-width="2.2" stroke-dasharray="6 3"/><polygon points="683,1358.8 662,1345.8 662,1371.8" fill="#fff"/><line x1="265" y1="1358.8" x2="662" y2="1358.8" stroke="#fff" stroke-width="2.2" stroke-dasharray="6 3"/><polygon points="815,1422 793,1409 793,1435" fill="#fff"/><line x1="396" y1="1422" x2="793" y2="1422" stroke="#fff" stroke-width="2.2" stroke-dasharray="6 3"/></svg><div class="lab" style="left:741.5px;top:79.84px;width:1000px;font:bold 25.36px/1 'Liberation Sans', sans-serif;color:#fff;text-align:left;white-space:nowrap;transform:scaleX(1.02);transform-origin:left;-webkit-text-stroke:0.9px #fff;">HOLIDAY REMINDER PAGE</div><div class="lab" style="left:829px;top:137.63px;width:1000px;font:bold 26.09px/1 'Liberation Sans', sans-serif;color:#fff;text-align:left;white-space:nowrap;transform:scaleX(0.99);transform-origin:left;-webkit-text-stroke:0.9px #fff;">MONTHLY PLANNER</div><div class="lab" style="left:921px;top:194.6px;width:1000px;font:bold 25.65px/1 'Liberation Sans', sans-serif;color:#fff;text-align:left;white-space:nowrap;transform:scaleX(1);transform-origin:left;-webkit-text-stroke:0.9px #fff;">WEEKLY PLANNER</div><div class="lab" style="left:968px;top:252.02px;width:1000px;font:bold 25.51px/1 'Liberation Sans', sans-serif;color:#fff;text-align:left;white-space:nowrap;transform:scaleX(1);transform-origin:left;-webkit-text-stroke:0.9px #fff;">DOTTED GRID BLANK PAGE</div><div class="lab" style="left:1051.7px;top:307.16px;width:1000px;font:bold 26.52px/1 'Liberation Sans', sans-serif;color:#fff;text-align:left;white-space:nowrap;transform:scaleX(0.95);transform-origin:left;-webkit-text-stroke:0.9px #fff;">CONTACTS PAGE</div><div class="lab" style="left:1130px;top:371.16px;width:1000px;font:bold 26.52px/1 'Liberation Sans', sans-serif;color:#fff;text-align:left;white-space:nowrap;transform:scaleX(0.95);transform-origin:left;-webkit-text-stroke:0.9px #fff;">CALENDAR PAGE</div><div class="lab" style="left:214px;top:1186.09px;width:1000px;font:bold 26.96px/1 'Liberation Sans', sans-serif;color:#fff;text-align:left;white-space:nowrap;transform:scaleX(0.93);transform-origin:left;-webkit-text-stroke:0.9px #fff;">YEARLY PLANNER</div><div class="lab" style="left:324.7px;top:1254.09px;width:1000px;font:bold 25.07px/1 'Liberation Sans', sans-serif;color:#fff;text-align:left;white-space:nowrap;transform:scaleX(0.99);transform-origin:left;-webkit-text-stroke:0.9px #fff;">EXPENSES PAGE</div><div class="lab" style="left:255.2px;top:1321.23px;width:1000px;font:bold 26.09px/1 'Liberation Sans', sans-serif;color:#fff;text-align:left;white-space:nowrap;transform:scaleX(0.98);transform-origin:left;-webkit-text-stroke:0.9px #fff;">BIRTHDAY REMINDER PAGE</div><div class="lab" style="left:423px;top:1384.23px;width:1000px;font:bold 26.09px/1 'Liberation Sans', sans-serif;color:#fff;text-align:left;white-space:nowrap;transform:scaleX(0.97);transform-origin:left;-webkit-text-stroke:0.9px #fff;">TRAVEL ITINERARY PAGE</div>
</body></html>
